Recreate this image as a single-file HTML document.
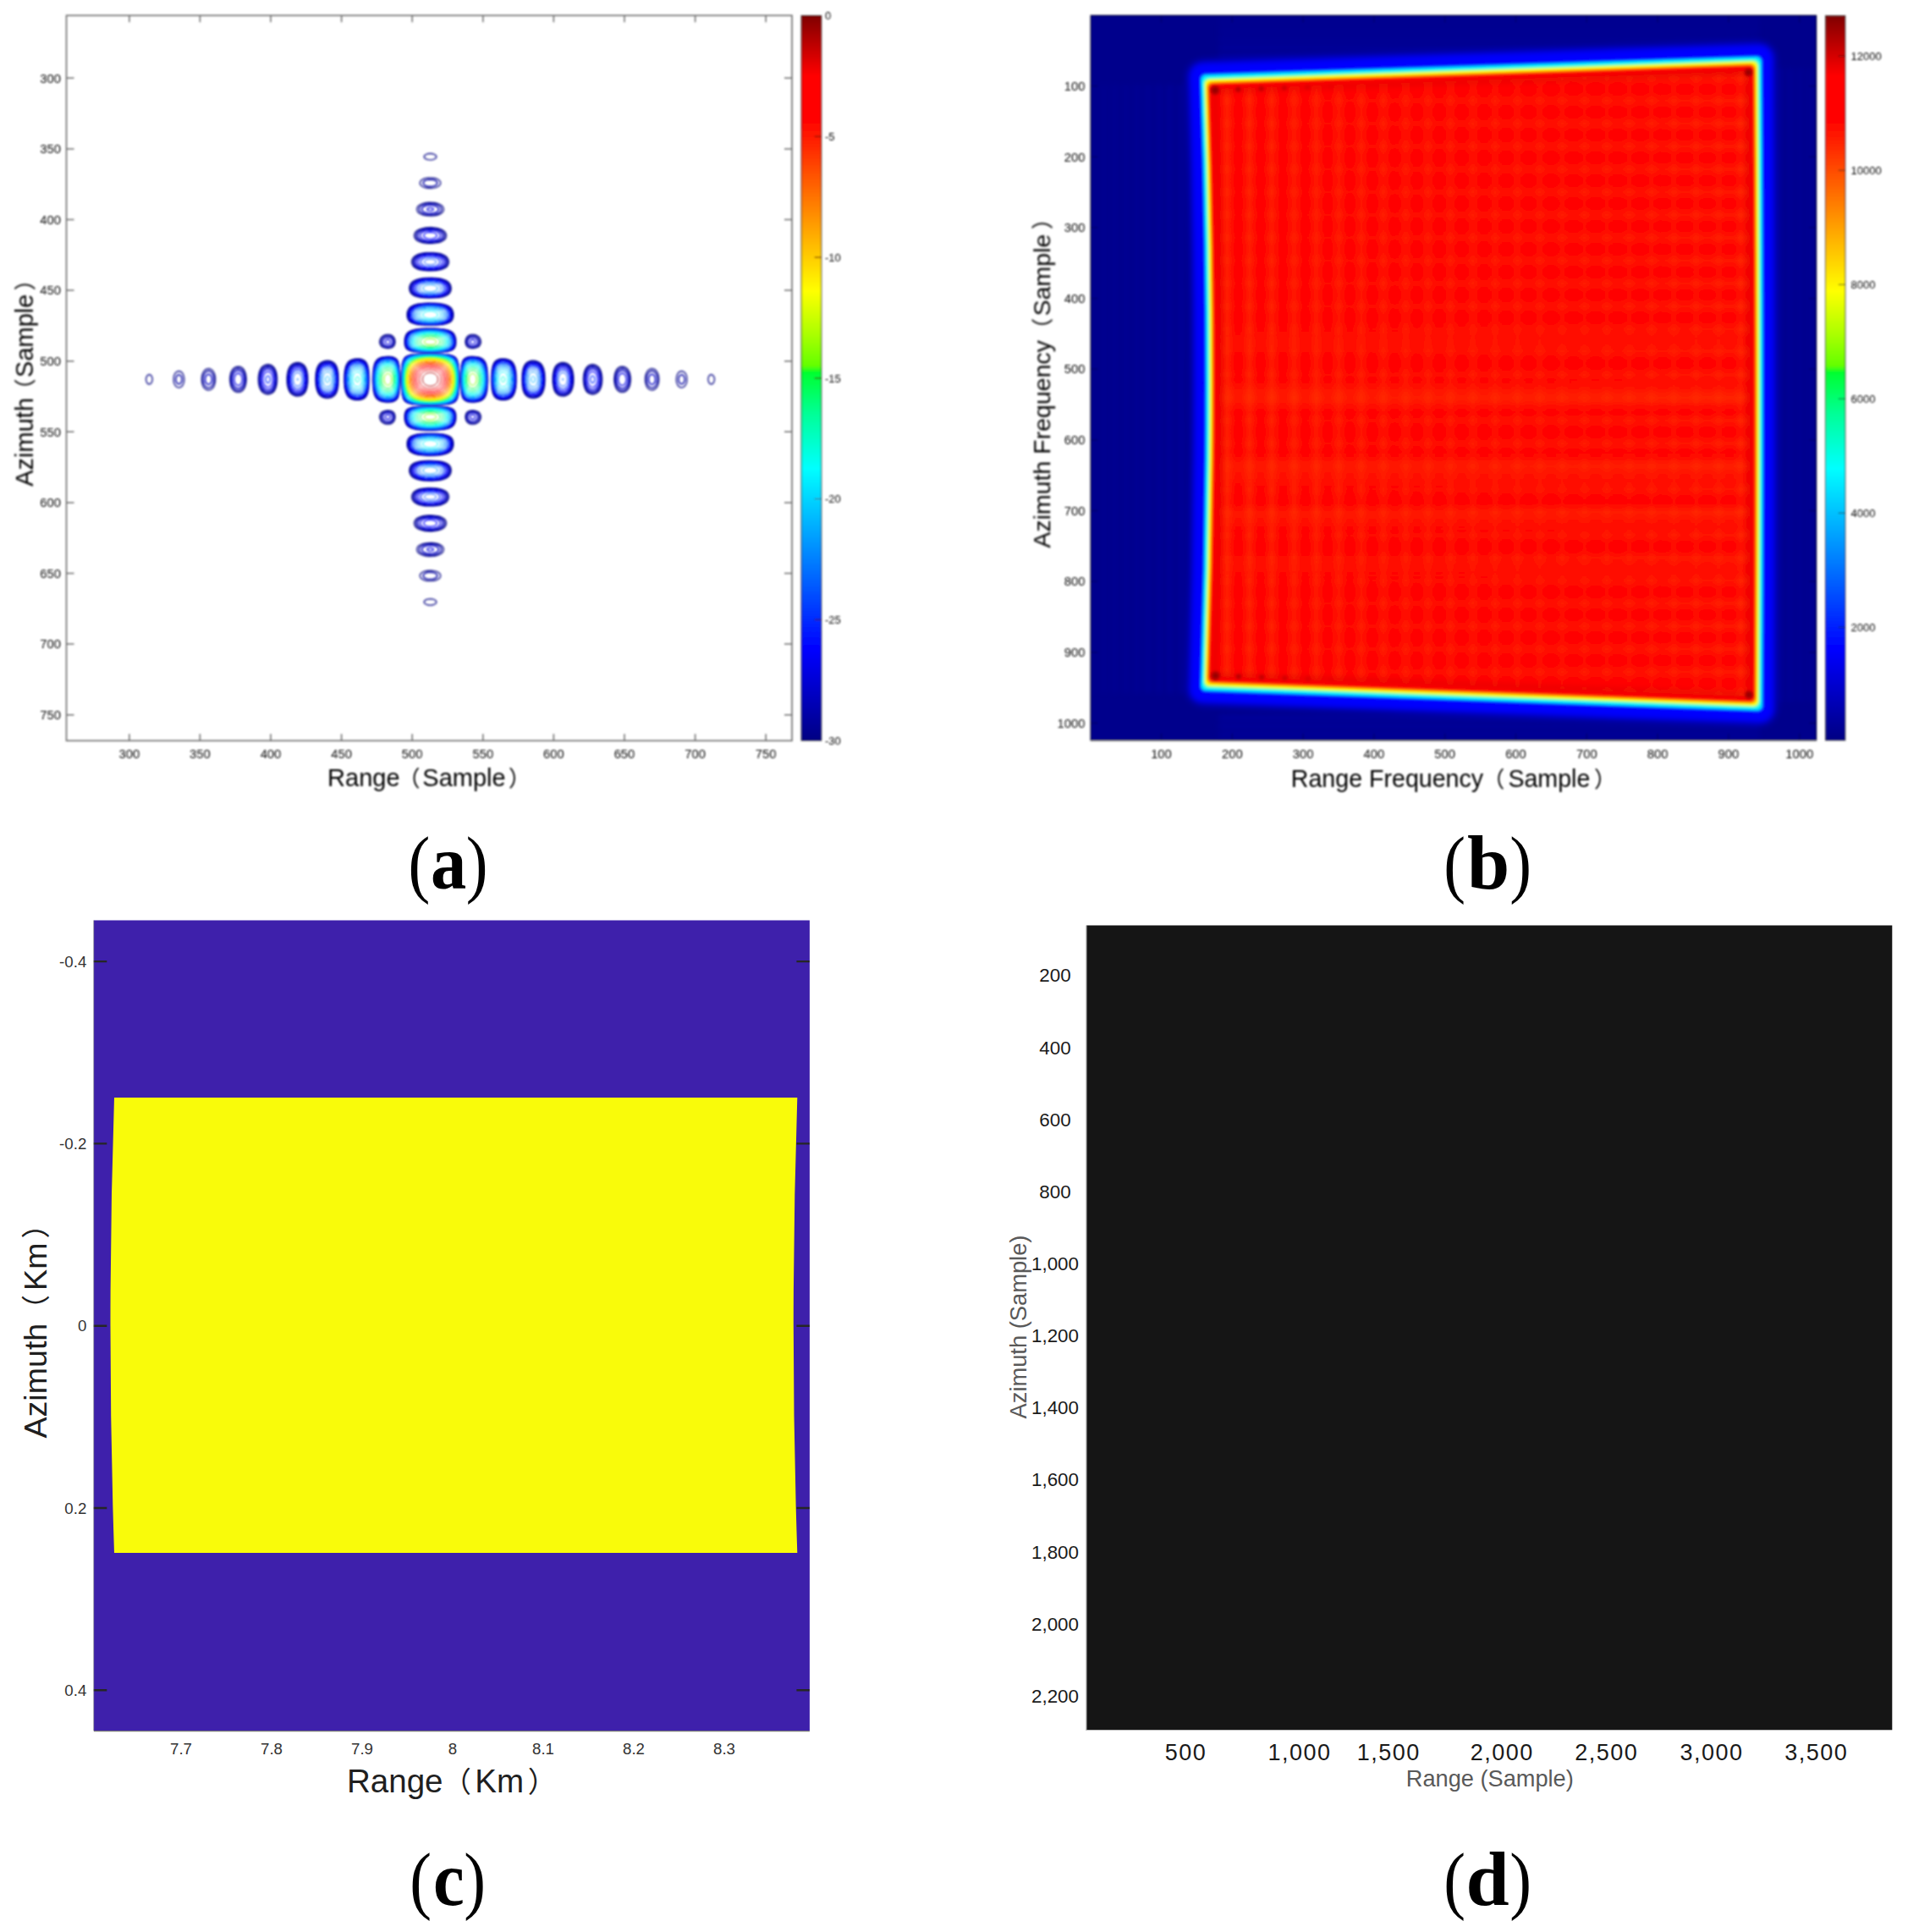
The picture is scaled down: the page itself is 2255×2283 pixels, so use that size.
<!DOCTYPE html><html><head><meta charset="utf-8"><title>Figure</title>
<style>html,body{margin:0;padding:0;background:#fff}svg{display:block}text{font-family:"Liberation Sans","Noto Sans CJK SC",sans-serif}.sf{font-family:"Liberation Serif",serif}</style></head><body>
<svg width="2255" height="2283" viewBox="0 0 2255 2283">
<defs>
<linearGradient id="jet" x1="0" y1="1" x2="0" y2="0"><stop offset="0" stop-color="#000083"/><stop offset="0.125" stop-color="#0000ff"/><stop offset="0.375" stop-color="#00ffff"/><stop offset="0.45" stop-color="#00ff98"/><stop offset="0.507" stop-color="#00ff32"/><stop offset="0.517" stop-color="#64ff00"/><stop offset="0.56" stop-color="#aaff00"/><stop offset="0.62" stop-color="#ffff00"/><stop offset="0.857" stop-color="#ff0000"/><stop offset="0.917" stop-color="#ff0000"/><stop offset="1" stop-color="#800000"/></linearGradient>
<filter id="b06" x="-2%" y="-2%" width="104%" height="104%"><feGaussianBlur stdDeviation="0.6"/></filter>
<filter id="b08" x="-2%" y="-2%" width="104%" height="104%"><feGaussianBlur stdDeviation="0.9"/></filter>
<filter id="b07" x="-5%" y="-5%" width="110%" height="110%"><feGaussianBlur stdDeviation="0.65"/></filter>
<filter id="b12" x="-2%" y="-2%" width="104%" height="104%"><feGaussianBlur stdDeviation="0.9"/></filter>
<filter id="b6" x="-5%" y="-5%" width="110%" height="110%"><feGaussianBlur stdDeviation="5"/></filter>
<filter id="b3" x="-5%" y="-5%" width="110%" height="110%"><feGaussianBlur stdDeviation="3"/></filter>
<radialGradient id="spot"><stop offset="0" stop-color="#ff4a00" stop-opacity="0.85"/><stop offset="1" stop-color="#ff4a00" stop-opacity="0"/></radialGradient>
<radialGradient id="dark"><stop offset="0" stop-color="#8a0000" stop-opacity="1"/><stop offset="0.5" stop-color="#a00000" stop-opacity="0.8"/><stop offset="1" stop-color="#c00000" stop-opacity="0"/></radialGradient>
<pattern id="grid" x="1437.1" y="105.5" width="26.4" height="27" patternUnits="userSpaceOnUse"><ellipse cx="13.2" cy="13.5" rx="8" ry="9.5" fill="url(#spot)"/></pattern>
<linearGradient id="vsg" x1="0" y1="0" x2="1" y2="0"><stop offset="0.12" stop-color="#ff4400" stop-opacity="0"/><stop offset="0.5" stop-color="#ff4400" stop-opacity="0.9"/><stop offset="0.88" stop-color="#ff4400" stop-opacity="0"/></linearGradient>
<linearGradient id="hsg" x1="0" y1="0" x2="0" y2="1"><stop offset="0.12" stop-color="#ff4400" stop-opacity="0"/><stop offset="0.5" stop-color="#ff4400" stop-opacity="0.9"/><stop offset="0.88" stop-color="#ff4400" stop-opacity="0"/></linearGradient>
<pattern id="vs" x="1437.1" y="0" width="26.4" height="40" patternUnits="userSpaceOnUse"><rect width="26.4" height="40" fill="url(#vsg)"/></pattern>
<pattern id="hs" x="0" y="105.5" width="40" height="27" patternUnits="userSpaceOnUse"><rect width="40" height="27" fill="url(#hsg)"/></pattern>
<linearGradient id="mvg" x1="0" y1="0" x2="1" y2="0"><stop offset="0" stop-color="#d0d0d0"/><stop offset="0.35" stop-color="#6a6a6a"/><stop offset="0.7" stop-color="#333"/><stop offset="0.93" stop-color="#444"/><stop offset="1" stop-color="#aaa"/></linearGradient>
<linearGradient id="mhg" x1="0" y1="0" x2="1" y2="0"><stop offset="0" stop-color="#222"/><stop offset="0.4" stop-color="#444"/><stop offset="1" stop-color="#999"/></linearGradient>
<mask id="mv" maskUnits="userSpaceOnUse" x="1400" y="50" width="720" height="820"><rect x="1425" y="50" width="655" height="820" fill="url(#mvg)"/></mask>
<mask id="mh" maskUnits="userSpaceOnUse" x="1400" y="50" width="720" height="820"><rect x="1425" y="50" width="655" height="820" fill="url(#mhg)"/></mask>
<clipPath id="clipB"><rect x="1289.2" y="18.4" width="857.3" height="856.4"/></clipPath>
</defs>
<rect width="2255" height="2283" fill="#fff"/>
<g filter="url(#b08)">
<g transform="translate(508.5,448.3)" fill="none" stroke-width="1.0" filter="url(#b07)">
<g id="cm"><path stroke="#000083" stroke-width="1.3" d="M-5.4-30l10.9 0 10 0.4 6.5 0.6 3.5 0.8 2.8 1.2 1.2 0.9 1 1 1 1.6 0.5 1.3 0.9 3.7 0.6 4.9 0.3 6.6 0.1 8-0.2 8-0.2 4.6-0.5 4.5-0.8 3.4-1 2.5-1.2 1.7-1.5 1.2-2 1-2 0.6-2.5 0.5-4.4 0.5-12.2 0.5-10.9 0-10-0.4-6.5-0.6-3.5-0.8-2.8-1.2-1.2-0.9-1-1-1-1.6-0.5-1.3-0.9-3.7-0.6-4.9-0.3-6.6-0.1-8 0.2-8 0.2-4.6 0.5-4.5 0.8-3.4 1-2.5 1.2-1.7 1.5-1.2 2-1 2-0.6 2.5-0.5 4.4-0.5 12.1-0.5z"/><path stroke="#0000a4" stroke-width="1.5" d="M-15.5-29.5l9.5-0.4 10.5 0 10.5 0.4 5.5 0.5 4.5 0.9 2.5 1 2.1 1.6 1.5 2 1.1 3 0.8 3.9 0.5 5.4 0.2 5.7 0.1 8.5-0.3 8.2-0.5 5.4-0.9 4.4-0.6 1.6-1.1 1.9-1.3 1.5-1.6 1.1-2 0.8-2.2 0.6-2.8 0.5-5 0.5-9.5 0.4-10.5 0-10.5-0.4-5.5-0.5-4.5-0.9-2.5-1-2.1-1.6-1.5-2-1.1-3-0.8-3.9-0.5-5.4-0.2-5.7-0.1-8.5 0.3-8.2 0.5-5.4 0.9-4.4 0.6-1.6 1.1-1.9 1.3-1.5 1.6-1.1 2-0.8 2.2-0.6 2.8-0.5 5-0.5z"/><path stroke="#0000c5" stroke-width="1.5" d="M-12.8-29.5l10.3-0.3 10.5 0.1 7.5 0.4 6 0.7 4 1 2.5 1.3 2 1.9 1.4 2.4 1 3.5 0.6 3.7 0.5 6.8 0.1 7-0.1 9-0.4 5.5-0.6 4.6-0.9 3.4-1 2-1.1 1.5-1.5 1.3-2 1.1-2 0.6-3 0.7-8 0.8-10.5 0.3-10.5-0.1-7.5-0.4-6-0.7-4-1-2.5-1.3-2-1.9-1.4-2.4-1-3.5-0.6-3.7-0.5-6.8-0.1-7 0.1-9 0.4-5.5 0.6-4.6 0.9-3.4 1-2 1.1-1.5 1.5-1.3 2-1.1 2-0.6 3-0.7 8-0.8z"/><path stroke="#0000e6" stroke-width="1.3" d="M-9.1-29.5l9.6-0.1 9 0.1 7.4 0.5 5.6 0.9 3.4 1.1 2.5 1.5 1.7 2 1.5 3 0.9 3.9 0.5 3.9 0.4 7.2 0.1 7.5-0.2 7-0.5 5.5-0.8 4.5-1 3-1 1.7-1.5 1.7-1.6 1.1-2.3 1-2.6 0.7-3.5 0.6-9 0.7-9 0.1-9.6-0.1-7.8-0.5-5.1-0.8-3.9-1.2-2.5-1.5-1.7-2-1.5-3-0.9-3.9-0.5-3.9-0.4-7.2-0.1-7.5 0.2-7 0.5-5.5 0.8-4.5 1-3 1-1.7 1.5-1.7 1.6-1.1 2.3-1 2.6-0.7 3.5-0.6 9-0.7z"/><path stroke="#0008ff" stroke-width="1.2" d="M-14.5-29l8.5-0.4 9.5-0.1 9.5 0.4 5.9 0.6 4.6 1 3 1.3 2.3 1.7 1.7 2.4 1.2 3.1 0.8 4.1 0.5 4.8 0.3 6.1 0 7-0.3 7.1-0.5 4.9-1 4.6-1 2.4-1 1.7-1.2 1.3-1.8 1.2-2 1-2.9 0.8-6.6 1-8.5 0.4-9.5 0.1-9.5-0.4-6.4-0.6-4.6-1-3-1.3-2.3-1.7-1.7-2.4-1.2-3.1-0.8-4.1-0.5-4.8-0.3-6.1 0-7 0.3-7.1 0.5-4.9 1-4.6 1-2.4 1-1.7 1.2-1.3 1.8-1.2 2-1 2.9-0.8 6.6-1z"/><path stroke="#002aff" stroke-width="1.2" d="M-11.6-29l9.1-0.3 9.5 0.1 7.5 0.4 5.6 0.8 3.7 1 3.2 1.6 2 1.9 1 1.4 0.8 1.6 1 3.5 0.7 4.2 0.5 5.8 0.1 6-0.1 7.2-0.5 6.3-0.5 3.6-1 3.8-1 2.2-1.4 1.9-1.6 1.4-1.9 1.1-2.6 0.9-2.4 0.6-3.1 0.5-5 0.5-9 0.3-9.5-0.1-7.5-0.4-6.1-0.8-3.7-1-3.2-1.6-2-1.9-1-1.4-0.8-1.6-1-3.5-0.7-4.2-0.5-5.8-0.1-6 0.1-7.2 0.5-6.3 0.5-3.6 1-3.8 1-2.2 1.4-1.9 1.6-1.4 1.9-1.1 2.6-0.9 2.4-0.6 3.1-0.5 5-0.5z"/><path stroke="#004dff" d="M-7.2-29l9.7-0.1 8.5 0.3 7 0.7 4.6 1.1 3.4 1.5 1.3 1 1.2 1.1 1 1.4 0.8 1.5 1.2 3.7 0.7 3.8 0.5 5 0.2 6.5-0.1 6.5-0.3 5.2-0.5 4.3-1 4-1 2.6-1.2 1.9-1.5 1.5-1.8 1.3-2.5 1.1-2.5 0.7-4 0.7-9.3 0.7-9.7 0.1-8.5-0.3-7-0.7-4.6-1.1-3.4-1.5-2.4-2-1.6-2.5-1.5-4-0.7-4-0.5-5-0.2-6.5 0.1-6.5 0.3-5.2 0.5-4.3 1-4 1-2.6 1.2-1.9 1.5-1.5 1.8-1.3 2.5-1.1 2.5-0.7 3.5-0.6 9.5-0.8z"/><path stroke="#006eff" d="M-11.8-28.5l8.3-0.4 9 0.1 7.5 0.4 6.2 0.9 4.3 1.3 3 1.7 2 2 1.7 3 1 3 0.8 4.4 0.5 5.6 0.2 5.5-0.2 7-0.4 5-0.6 4.1-1 3.7-1 2.2-1 1.5-1.5 1.6-2 1.4-2.2 1-3.3 0.9-3.2 0.6-4.3 0.5-8.5 0.4-9-0.1-7.5-0.4-6.2-0.9-4.3-1.3-3-1.7-2-2-1.7-3-1-3-0.8-4.4-0.5-5.6-0.2-5.5 0.2-7 0.4-5 0.6-4.1 1-3.7 1-2.2 1-1.5 1.5-1.6 2-1.4 2.2-1 3.3-0.9 3.2-0.6 4.3-0.5z"/><path stroke="#0090ff" d="M-7.6-28.5l8.6-0.2 8.5 0.3 7 0.8 4.9 1.1 3.4 1.5 1.5 1 1.2 1.1 1 1.3 1 1.6 1.3 3.5 0.7 3.5 0.6 5 0.3 6-0.1 6-0.3 5.2-0.5 3.9-0.9 3.9-1.1 2.9-1.3 2.1-1.3 1.5-1.9 1.4-2.2 1.1-2.8 0.9-3 0.6-3.5 0.5-5.5 0.5-9 0.2-8.5-0.3-7-0.8-4.9-1.1-3.4-1.5-1.5-1-1.2-1.1-1-1.3-1-1.6-1.3-3.5-0.7-3.5-0.6-5-0.3-6 0.1-6 0.3-5.2 0.5-3.9 0.9-3.9 1.1-2.9 1.3-2.1 1.3-1.5 1.9-1.4 2.2-1.1 2.8-0.9 3-0.6 3.5-0.5 5.5-0.5z"/><path stroke="#00b2ff" d="M-10.7-28l8.2-0.4 8.5 0.1 7.5 0.6 5.5 1 3.7 1.2 1.8 1 1.5 1 1 1 1.2 1.5 1.6 3 1 3.5 0.7 3.9 0.5 5.6 0.1 5.5-0.2 5.5-0.5 5-0.8 4.5-1 3-1.1 2.1-1.5 1.9-1.5 1.4-1.8 1.1-2.3 1-3.4 1-7 1-8 0.4-8.5-0.1-7-0.5-6-1-4.2-1.3-1.8-1-1.5-1-1-1-1.2-1.5-1.6-3-1-3.5-0.7-3.9-0.5-5.6-0.1-5.5 0.2-5.5 0.5-5 0.8-4.5 1-3 1.1-2.1 1.5-1.9 1.5-1.4 1.8-1.1 2.3-1 3.4-1 7-1z"/><path stroke="#00d4ff" d="M-5.6-28l9.1-0.1 7.5 0.5 5.5 0.8 4.8 1.3 2.1 1 1.6 1 1.2 1 1.3 1.5 1 1.6 0.9 1.9 1.2 4 0.6 4 0.5 5 0.1 5.5-0.3 5.5-0.5 4.5-0.5 3-1 3.3-1.3 2.7-1.5 2-1.7 1.5-1.6 1-2.4 1.1-2.9 0.9-3.1 0.6-4 0.5-5 0.4-8.5 0.1-8-0.4-6-0.9-4.8-1.3-3.2-1.7-1.5-1.1-1.1-1.2-1.9-3-1.5-4.6-0.7-3.9-0.4-4.5-0.2-5.5 0.2-5.5 0.4-4.5 0.7-3.9 0.9-3.1 1.1-2.5 1.4-2 1.5-1.5 2.1-1.5 2.2-1 2.8-0.9 3-0.6 4-0.6 5.5-0.4z"/><path stroke="#00f6ff" d="M-8.3-27.5l8.3-0.3 8.3 0.3 6.2 0.7 5 1.2 3.6 1.6 1.5 1 1.4 1.2 2 2.7 1.5 3.6 0.9 3.5 0.6 4 0.4 5 0 5.5-0.3 5-0.6 4.1-1 3.9-1 2.6-1.1 1.9-1.6 2-1.8 1.4-2 1.2-2.5 1-3.5 0.9-7.5 1-8 0.3-8.5-0.3-6.5-0.7-5-1.2-3.6-1.6-1.5-1-1.4-1.2-2-2.7-1.5-3.6-0.9-3.5-0.6-4-0.4-5 0-5.5 0.3-5 0.6-4.1 1-3.9 1-2.6 1.1-1.9 1.6-2 1.8-1.4 2-1.2 2.5-1 3.5-0.9 7.5-1z"/><path stroke="#00ffdd" d="M-9.5-27l7.5-0.4 8 0.1 7 0.7 4.9 1.1 3.9 1.5 1.7 1 1.5 1.2 1.2 1.3 1.1 1.5 1.6 3.5 1 3.5 0.6 3.5 0.4 5 0.1 5-0.3 5-0.5 4-0.7 3.2-1.2 3.3-1 2-1.5 2-1.7 1.5-2.1 1.4-2.5 1.1-2.5 0.8-3.5 0.7-3.5 0.5-7.5 0.4-8-0.1-7-0.7-5.4-1.1-3.9-1.5-1.7-1-1.5-1.2-1.2-1.3-1.1-1.5-1.6-3.5-1-3.5-0.6-3.5-0.4-5-0.1-5 0.3-5 0.5-4 0.7-3.2 1.2-3.3 1-2 1.5-2 1.7-1.5 2.1-1.4 2.5-1.1 2.5-0.8 3.5-0.7 3.5-0.5z"/><path stroke="#00ffaf" d="M-2.7-27l8.2 0.1 7 0.7 5.1 1.2 2.7 1 1.9 1 1.4 1 1.7 1.5 1.2 1.6 1 1.6 1.6 4.3 1.1 6 0.3 4 0.1 4-0.2 4-0.5 4-0.5 3-0.9 3-1.1 2.5-1.4 2.1-1.5 1.7-2 1.5-2.2 1.2-2.7 1-3.1 0.8-3.5 0.6-8 0.6-8-0.1-7.5-0.7-5.1-1.2-2.7-1-1.9-1-1.4-1-1.7-1.5-1.2-1.6-1-1.6-1.6-4.3-1.1-6-0.3-4-0.1-4 0.2-4 0.5-4 0.5-3 0.9-3 1.1-2.5 1.4-2.1 1.5-1.7 2-1.5 2.2-1.2 2.7-1 3.1-0.8 3.5-0.6 8-0.6z"/><path stroke="#00ff7a" d="M-4.2-26.5l7.7 0 7 0.6 5.5 1.1 2.6 0.8 2.2 1 1.7 1.1 1.5 1.2 1.5 1.7 1 1.4 1 2 0.8 2.1 1.2 5 0.4 4 0.2 4-0.1 4-0.4 4-0.6 3.4-0.9 3.1-1 2.5-1.2 2-1.4 1.7-1.5 1.3-2.2 1.5-2.3 1-3 1-3 0.6-3.5 0.5-4.5 0.4-7.5 0-7.1-0.5-5.9-1.2-2.5-0.8-2-0.9-3.2-2.1-1.3-1.3-1.2-1.7-1.1-2-0.8-2-1.3-5-0.5-4-0.2-4 0.1-4 0.4-4.5 0.6-3.4 0.9-3.1 1-2.5 1.2-2 1.4-1.7 1.5-1.3 2.2-1.5 2.3-1 3-1 3-0.6 3.5-0.5 4.5-0.4z"/><path stroke="#00ff3f" d="M-4.3-26l7.3-0.1 6.8 0.6 5.7 1.2 2.5 0.8 2 0.9 1.7 1.1 1.8 1.4 1.4 1.6 1 1.5 1.7 3.5 1.2 5 0.5 3.5 0.2 4-0.1 4-0.3 4-0.6 3.3-0.9 3.2-1.1 2.5-1.2 2-1.7 2-1.6 1.3-1.9 1.2-2.1 1-3 1-2.5 0.5-3.5 0.6-4.5 0.4-7.5 0.1-6.8-0.6-5.7-1.2-2.5-0.8-2-0.9-1.7-1.1-1.8-1.4-1.4-1.6-1-1.5-1.7-3.5-1.2-5-0.5-3.5-0.2-4 0.1-4 0.3-4 0.6-3.3 0.9-3.2 1.1-2.5 1.2-2 1.7-2 1.6-1.3 1.9-1.2 2.1-1 3-1 2.5-0.5 3.5-0.6 4.5-0.4z"/><path stroke="#7fff00" d="M-3.5-25.5l7 0 7 0.7 5.3 1.3 2.2 0.8 2 1.1 3 2.2 1.5 1.8 1.1 1.6 1 2 0.9 2.5 1 5 0.3 3.5 0.1 3.5-0.2 4-0.4 3.5-0.7 3-0.8 2.5-1.2 2.5-1.4 2-1.3 1.5-1.9 1.5-2 1.2-2.5 1.1-2.5 0.7-3.5 0.8-7 0.7-7 0-7-0.7-5.3-1.3-2.2-0.8-2-1.1-3-2.2-1.5-1.8-1.1-1.6-1-2-0.9-2.5-1-5-0.3-3.5-0.1-3.5 0.2-4 0.4-3.5 0.7-3 0.8-2.5 1.2-2.5 1.4-2 1.3-1.5 1.9-1.5 2-1.2 2.5-1.1 2.5-0.7 3.5-0.8 7-0.7z"/><path stroke="#b3ff00" d="M-8-24.5l6.5-0.5 6.5 0.2 6.1 0.8 4.9 1.4 3.5 1.7 1.5 1 1.6 1.4 1.3 1.5 1.1 1.7 1.6 3.8 0.8 3 0.6 3.5 0.2 3.5 0 3.5-0.3 3.5-0.6 3.5-0.8 2.9-1.1 2.6-1.4 2.3-1.4 1.7-1.7 1.5-1.9 1.2-2.5 1.2-2.5 0.9-6 1.2-6.5 0.5-6.5-0.2-6.1-0.8-4.9-1.4-3.5-1.7-1.5-1-1.6-1.4-1.3-1.5-1.1-1.7-1.6-3.8-0.8-3-0.6-3.5-0.2-3.5 0-3.5 0.3-3.5 0.6-3.5 0.8-2.9 1.1-2.6 1.4-2.3 1.4-1.7 1.7-1.5 1.9-1.2 2.5-1.2 2.5-0.9 6-1.2z"/><path stroke="#e3ff00" d="M-6.4-24l6.4-0.3 6.4 0.3 5.6 1 4.5 1.5 3.5 2 1.7 1.5 1.3 1.4 2 3.3 1.5 4.3 0.6 3 0.4 3.5 0 3-0.2 3.5-0.4 3-0.7 3-0.9 2.5-1.2 2.5-1.5 2-1.4 1.5-1.7 1.3-2 1.2-2.2 1-2.8 0.9-6.1 1.1-6.4 0.3-6.4-0.3-5.6-1-4.5-1.5-3.5-2-2.6-2.5-1.4-1.9-0.9-1.6-1.5-4-0.6-3-0.4-3.5-0.1-3.5 0.2-3.5 0.4-3 0.7-3 0.9-2.5 1.2-2.5 1.5-2 1.4-1.5 1.7-1.3 2-1.2 2.2-1 2.8-0.9 6-1.1z"/><path stroke="#fff100" d="M-3.6-23.5l6.1-0.1 6 0.7 5 1.2 4 1.8 1.5 0.9 1.8 1.5 2.4 3 1.8 3.7 1.2 4.8 0.4 3 0.1 3-0.1 3-0.4 3-0.5 2.5-0.8 2.5-1.1 2.5-1.3 2-1.5 1.8-1.5 1.3-2 1.3-2.2 1.1-4.8 1.5-3 0.6-3.5 0.4-6 0.1-6.1-0.6-4.9-1.1-2.3-0.9-2.2-1.1-1.5-0.9-1.8-1.5-2.4-3-1.8-3.7-1.2-4.8-0.4-3-0.1-3 0.1-3 0.4-3 0.5-2.5 0.8-2.5 1.1-2.5 1.3-2 1.5-1.8 1.5-1.3 2-1.3 2.2-1.1 4.8-1.5 3-0.6 3.5-0.4z"/><path stroke="#ffcd00" d="M-5.6-22.5l5.6-0.3 5.6 0.3 5.4 1 4.1 1.5 3.4 2 1.7 1.5 1.3 1.5 2 3.3 1.3 3.7 0.6 2.5 0.3 3 0.1 3-0.2 3-0.4 3-0.7 2.5-0.9 2.5-1.1 2.1-1.4 1.9-1.4 1.5-1.7 1.4-1.9 1.1-2.1 1-2.5 0.8-5.5 1.2-6 0.3-5.6-0.3-5.4-1-4.1-1.5-3.4-2-1.7-1.5-1.3-1.5-2-3.3-1.3-3.7-0.6-2.5-0.3-3-0.1-3 0.2-3 0.4-3 0.7-2.5 0.9-2.5 1.1-2.1 1.4-1.9 1.4-1.5 1.7-1.4 1.9-1.1 2.1-1 2.5-0.8 5.5-1.2z"/><path stroke="#ffa900" d="M-6.2-21.5l5.7-0.4 5.5 0.3 5 0.9 4 1.4 3.2 1.8 2.8 2.5 2.1 3 1.6 4 0.6 2.5 0.4 3 0.1 2.5-0.1 3-1 5-0.9 2.5-1 2-1.3 1.9-1.5 1.6-1.5 1.3-1.8 1.2-4.2 1.8-5 1.2-5.5 0.4-5.5-0.2-5-0.8-4.1-1.4-3.6-2-2.8-2.5-2.1-3-1.6-4-0.6-2.5-0.4-3-0.1-2.5 0.1-3 1-5 0.9-2.5 1-2 1.3-1.9 1.5-1.6 1.5-1.3 1.8-1.2 4.2-1.8 5-1.2z"/><path stroke="#ff8500" d="M-5.9-20.5l4.9-0.4 5 0.2 4.5 0.7 4.5 1.5 3.5 2 2.5 2.3 2.2 3.2 1.4 3.5 0.7 2.5 0.3 2.5 0 5-0.3 2.5-0.7 2.5-0.7 2-1 2-0.9 1.5-1.5 1.7-1.5 1.4-2 1.4-4 1.8-5 1.2-5 0.4-5-0.2-4.5-0.7-4.5-1.5-3.5-2-2.5-2.3-2.2-3.2-1.4-3.5-0.7-2.5-0.3-2.5 0-5 0.3-2.5 0.7-2.5 0.7-2 1-2 0.9-1.5 1.5-1.7 1.5-1.4 2-1.4 4-1.8 5-1.2z"/><path stroke="#ff6100" d="M-4.9-19.5l4.9-0.3 4.9 0.3 4.6 1 3.5 1.4 3 2 2.5 2.5 1.9 3.1 1.3 3.5 0.5 2.5 0.3 2.5-0.3 4.5-0.5 2.5-0.6 2-1.8 3.5-1.1 1.5-1.4 1.5-3.3 2.3-4 1.7-4.5 1-5 0.3-4.9-0.3-4.6-1-3.5-1.4-3-2-2.5-2.5-1.9-3.1-1.3-3.5-0.5-2.5-0.3-2.5 0.3-4.5 0.5-2.5 0.6-2 1.8-3.5 1.1-1.5 1.4-1.5 3.3-2.3 4-1.7 4.5-1z"/><path stroke="#ff3d00" d="M-2.5-18.5l4.5 0 4.5 0.6 4 1.2 3.2 1.7 2.8 2.4 2 2.6 1.5 3.3 0.9 3.7 0.2 4-0.6 4-0.6 2-0.9 2-2 3-2.6 2.5-3.4 2-4 1.3-4 0.7-4.5 0.1-4.5-0.6-4-1.1-3.5-1.8-2.6-2.1-2.4-3-1.4-3-0.9-3.5-0.3-4 0.6-4.5 0.6-2 0.9-2 2-3 2.6-2.5 3.4-2 4-1.3 4-0.7z"/><path stroke="#ff1900" d="M-3.2-17l4.2-0.2 4 0.5 4 1.1 3 1.5 2.7 2.1 2.1 2.5 1.5 3 0.9 3 0.3 3.5-0.4 4-1.2 3.5-1.8 3-2.5 2.5-2.6 1.7-3.5 1.4-4 0.9-4 0.2-4-0.4-3.5-0.8-3.5-1.6-2.7-1.9-2.3-2.5-1.5-2.7-1.1-3.3-0.4-4 0.3-3.5 1.1-3.5 1.6-3 2.5-2.7 3-2 3.5-1.4 4-0.9z"/><path stroke="#ff0000" d="M-1.5-15.5l3.5 0 3.5 0.6 3 1 3 1.7 2.1 1.7 1.9 2.5 1.3 3 0.7 3 0.1 3-0.6 3.5-1.2 3-1.8 2.5-2.2 2-2.8 1.7-3.5 1.2-3.5 0.6-4 0-3.5-0.6-3-1-3-1.7-2.1-1.7-1.9-2.5-1.3-3-0.7-3-0.1-3 0.6-3.5 1.2-3 1.8-2.5 2.2-2 2.8-1.7 3.5-1.2 3.5-0.6z"/><path stroke="#ff0000" d="M-2.1-13.5l3.1-0.1 3 0.4 3 0.9 2.5 1.3 2 1.6 1.7 1.9 1.3 2.5 0.7 2.5 0.3 3-0.5 3-1 2.5-1.5 2.4-2 1.9-2.5 1.6-2.5 0.9-3 0.7-3.5 0.1-3-0.4-3-0.9-2.5-1.3-2-1.6-1.7-1.9-1.3-2.5-0.7-2.5-0.3-3 0.5-3 1-2.5 1.5-2.4 2-1.9 2.5-1.6 2.5-0.9 3-0.7z"/><path stroke="#e60000" d="M-2.7-11l2.7-0.2 2.5 0.2 2.5 0.6 2 0.9 2 1.4 1.6 1.6 1.2 2 0.7 2 0.3 2.5-0.2 2-0.6 2-1.1 2-1.4 1.7-2 1.5-2 1-2.5 0.7-2.5 0.3-3-0.2-2.2-0.5-2.3-1-2-1.4-1.5-1.5-1-1.6-0.8-2-0.5-2.5 0.1-2 0.7-2.5 1.1-2 1.4-1.7 2-1.5 2-1 2.5-0.7z"/><path stroke="#b30000" d="M-0.2-8l1.7 0.1 2 0.5 1.5 0.7 1.5 1 1.1 1.2 0.9 1.5 0.5 1.5 0.1 1.5-0.1 1.5-0.5 1.5-0.9 1.5-1.1 1.2-1.5 1-1.5 0.7-1.5 0.4-1.8 0.2-1.7-0.1-2-0.5-1.5-0.7-1.5-1-1.1-1.2-0.9-1.5-0.5-1.5-0.1-1.5 0.1-1.5 0.5-1.5 0.9-1.5 0.9-1 1.3-1 1.4-0.7 1.5-0.5 2-0.3z"/></g>
<g id="cr"><path stroke="#000083" stroke-width="1.3" d="M45.1-26.5l3.9-0.4 4.5 0.2 4 0.7 3 1.1 2.1 1.4 1.9 2.3 1.1 2.2 1 3.5 0.9 6.4 0.3 9.6-0.3 8.6-0.5 4.3-0.5 2.6-0.5 2-1 2.3-1 1.6-1 1.2-1.5 1.2-1.5 0.8-2 0.8-2 0.5-3.5 0.4-4 0.1-3.4-0.4-2.6-0.8-2-1.2-1.4-1.5-1.1-2.2-0.6-2.3-0.9-6.6-0.3-9.4 0.2-11.5 0.6-7.6 1-4.2 0.5-1.2 1-1.5 1-1 1.5-1 3-1zM81.9-24l3.6-0.4 3.5 0.2 3.2 0.7 2.8 1.3 2 1.7 1.7 2.5 1.3 3 0.8 3.5 0.8 6 0.1 8-0.5 7-1.1 5-1.4 3.5-1.7 2.5-1.1 1-1.5 1-1.4 0.7-2 0.7-3 0.5-3.5 0-3-0.5-2.5-0.9-2-1.5-1.5-1.8-1.1-2.2-1-3.5-0.9-7-0.2-7.5 0.3-7.5 0.9-6.5 1.1-3.5 0.9-1.7 1-1.3 2-1.7 3-1.2zM119.5-22l3.5-0.1 3 0.7 3 1.4 2 1.7 1.6 2.3 1.4 3.3 0.9 3.7 0.5 4 0.2 5.5-0.3 5.5-0.8 4.9-1.2 3.6-1.7 3-2.1 2.2-2.5 1.4-3.5 0.9-3 0.1-3-0.5-2.5-1.1-2-1.6-1.5-2-1.3-2.9-0.8-3-0.6-4.5-0.3-6 0.2-6 0.7-5.5 1.1-3.8 1.5-2.9 2-2.1 2.5-1.4 3-0.8zM153.8-19.5l2.7-0.4 3 0.4 2.5 0.9 2 1.3 1.7 1.8 1.4 2.5 1.1 3 0.7 3.5 0.5 5-0.1 4.5-0.5 4.5-1.1 4-1.2 2.7-1.7 2.3-2.3 1.8-2.5 1.1-2.5 0.4-3-0.1-2.5-0.8-2-1.3-1.5-1.6-1.5-2.4-1-2.8-0.6-2.8-0.6-5 0-5 0.3-4.5 0.9-4.3 1.2-3.2 1.7-2.5 2.1-1.8 2.5-1.1zM190.7-17.5l2.3 0 2.5 0.6 2 1.1 1.9 1.8 1.5 2.5 1 2.5 0.7 3 0.5 3.5 0 4-0.3 3.5-0.8 3.7-1.1 2.8-1.4 2.3-2 2-2 1.1-2.5 0.6-2.5 0-2-0.5-2-1.1-2-1.9-1.4-2.5-0.9-2.5-0.7-3-0.4-3.5-0.1-4 0.4-4 0.6-3 1.1-3 1.4-2.4 1.5-1.6 2-1.3 2.5-0.7zM225.2-15l2.3-0.2 2 0.4 2 1 1.5 1.3 1.4 2 1 2 0.6 2 0.6 3 0.2 3.5-0.2 3-0.6 3.5-0.8 2.5-1.2 2.2-1.5 1.8-2 1.4-1.8 0.6-1.7 0.2-2-0.2-2-0.9-1.5-1.1-1.5-1.9-1-2-0.8-2.6-0.6-3-0.2-3.5 0.2-3 0.4-3 1-3.1 1-2 1.5-1.9 1.5-1.1 2-0.9zM260.7-12.5l1.8-0.1 1.5 0.3 1.5 0.7 1.5 1.3 1 1.3 1 2 0.7 2 0.4 2.5 0.2 2.5-0.3 3-0.5 2.5-0.7 2-1.1 2-1.2 1.3-1.5 1.1-1.5 0.6-2 0.1-1.5-0.3-1.5-0.8-1.2-1-1.3-1.7-0.8-1.8-0.7-2.2-0.4-2.3-0.1-2.5 0.1-2.5 0.4-2.5 0.9-2.5 1.1-2 1-1.2 1.5-1.1 1.5-0.7zM295.8-9.5l1.2-0.2 1.4 0.2 1.1 0.5 1 0.8 1 1.1 0.9 1.6 0.6 1.9 0.3 1.6 0.1 3.5-0.4 2-0.5 1.7-1 1.8-0.8 1-1.2 1-1 0.5-1 0.2-1.5-0.1-1-0.4-1-0.7-1-1-0.9-1.5-0.6-1.5-0.5-2-0.2-2 0.1-2 0.8-3.5 0.8-1.7 0.9-1.3 1.1-0.9 1-0.5zM331.2-5.5l1.3-0.2 1.5 0.7 1.1 1.5 0.7 2 0.1 2-0.6 2.5-0.9 1.5-1.4 1-1.5 0.1-1.2-0.6-1.1-1.5-0.7-2-0.1-2.5 0.5-2 0.9-1.5 1.2-0.9z"/><path stroke="#0000a4" stroke-width="1.5" d="M45.1-26l3.9-0.5 4.5 0.2 4 0.8 3 1.3 2 1.5 1.8 2.2 1.2 2.6 1 3.7 0.9 7.2 0.2 9-0.6 9-1 5.3-1.5 3.8-1 1.5-1 1.1-2.5 1.8-2 0.8-2 0.6-3.5 0.5-4 0-3.4-0.4-2.6-0.9-1.8-1.1-1.4-1.5-1-2-0.8-2.7-0.5-3-0.4-4.3-0.3-9 0.2-10.4 0.8-7.6 1-4 1.4-2.5 1-1 1.3-0.9 3-1.1zM83.1-23.5l3.9-0.2 3.5 0.5 3 1.1 2.4 1.6 1.7 2 1.4 2.6 1.1 3.4 0.8 4.5 0.4 6.5-0.1 6.5-0.7 5.6-1.1 4.4-0.9 2-0.9 1.5-2.1 2.3-2.8 1.7-3.6 1-3.6 0.2-3-0.3-2.7-0.9-2.3-1.5-1.5-1.7-1.4-2.8-0.8-3-0.6-3.5-0.5-6.5 0-7 0.4-6 1-5.5 1.4-3.5 1-1.4 1-1.1 2.5-1.6 3-0.9zM119.4-21l3.1-0.1 3 0.5 2.5 1.1 2 1.6 1.6 1.9 1.4 2.7 1 3.3 0.8 4.5 0.2 5.5-0.2 5-0.7 4.5-1.1 3.8-1.5 2.8-2 2.3-2.5 1.6-3 0.9-3 0.3-2.5-0.4-2.5-0.9-2.1-1.4-1.7-2-1.2-2.4-1-3.3-0.6-3.8-0.4-5.5 0.1-5.5 0.5-4.5 1-4.5 1.4-3.1 1.9-2.4 2.2-1.5 2.9-0.9zM155.1-18.5l2.9 0 2.3 0.5 2.2 1.1 2 1.8 1.5 2.1 1.1 2.5 0.9 3.3 0.5 3.7 0.2 4-0.3 4.5-0.8 4-1.1 3-1.5 2.5-1.9 2-2.1 1.2-2.7 0.8-2.3 0.1-2.5-0.5-2-0.9-2-1.7-1.5-2.1-1.1-2.4-0.9-3.5-0.5-3.5-0.1-4.5 0.2-4.5 0.8-4 0.9-3 1.4-2.5 1.8-2 2-1.2 2.5-0.8zM191.6-16l2.4 0.3 2 0.8 1.9 1.4 1.3 1.5 1.3 2.4 0.9 2.6 0.5 3 0.3 3.5-0.1 3.5-0.6 3.4-1 3.1-1 2-1.5 1.9-2 1.5-2 0.8-2 0.3-2-0.2-2-0.7-2-1.5-1.3-1.6-1.2-2.4-0.8-2.6-0.6-3-0.2-3.5 0.1-3.5 0.5-3.2 0.8-2.8 1.1-2.5 1.5-2 1.6-1.3 2-0.9 2-0.3zM225.4-13l1.6-0.2 2 0.3 1.5 0.7 1.5 1.2 1.1 1.5 1.1 2 0.8 2.5 0.4 2.5 0.1 2.5-0.2 3-0.4 2.5-0.9 2.4-1 1.8-1.5 1.7-1.5 1.1-1.4 0.5-1.6 0.2-2-0.3-1.5-0.7-1.5-1.2-1-1.3-1-1.9-0.6-1.8-0.6-2.5-0.2-3 0.1-2.5 0.4-3 0.8-2.5 1-2 1.1-1.5 1.5-1.2 1.5-0.7zM260-9.5l1-0.4 1.5 0 1.5 0.4 1 0.6 1 0.9 1 1.4 1.2 3.1 0.3 2 0.1 2-0.6 3.6-0.7 1.9-0.8 1.4-1 1.1-1 0.8-1 0.4-1.5 0.3-1.5-0.3-1-0.5-1-0.7-1-1.3-0.9-1.7-0.5-1.5-0.4-2-0.1-2 0.1-2 0.4-2 0.5-1.5 0.9-1.7 1-1.3 1-0.7zM296.9-5.5l0.6 0 1 0.4 1 1 0.8 1.6 0.4 2-0.1 2-0.7 2-0.9 1.2-1.5 0.8-1.5-0.2-1-0.8-1-1.6-0.5-2.1 0-1.8 0.5-2 1-1.5 1.5-0.9z"/><path stroke="#0000c5" stroke-width="1.5" d="M45.3-25.5l3.7-0.5 4 0.2 4 0.8 3 1.2 2.4 1.8 1.5 2 1.2 2.5 1 3.5 0.9 6.3 0.3 8.7-0.4 7.5-0.4 3.5-0.6 3-1.4 3.9-1 1.7-1 1.3-1.3 1.1-1.6 1-3.6 1.3-3.5 0.6-4 0-3.2-0.4-2.8-1-1.5-1-1.5-1.7-1-1.9-0.9-3.4-0.8-6.5-0.3-9.5 0.2-9.5 0.3-3.7 0.5-3.5 1-3.7 1.5-2.6 2-1.7 1.5-0.8 1.5-0.4zM82.2-22.5l3.3-0.4 3.5 0.2 3 0.8 2.5 1.4 2 1.9 1.5 2.2 1.2 2.9 0.9 4 0.7 5.5 0 6.5-0.5 6-1.1 5-1.5 3.5-2 2.5-1.2 1-1.5 0.9-3 1.1-3 0.4-3-0.1-3-0.7-2.2-1.1-1.8-1.6-1.5-2.4-1-2.6-0.7-2.9-0.7-6-0.2-6.5 0.4-7 0.8-5 1.4-4 1.5-2.4 2-1.7 1.5-0.8 1.5-0.5zM120-20l3 0 2.5 0.6 2.5 1.2 2 1.8 1.7 2.4 1.2 3 0.9 3.5 0.5 4 0.1 5-0.4 4.7-0.8 3.8-1.2 3.4-1.6 2.6-2.1 2-2.3 1.2-3.1 0.8-2.9 0-2.5-0.6-2-1-2-1.8-1.5-2.3-1-2.5-0.9-3.8-0.5-4-0.1-5 0.3-4.5 0.7-4.5 1-3.2 1.5-2.8 2-2 2.5-1.4 2.5-0.6zM154.8-17l2.2-0.2 2.5 0.4 2 0.9 2 1.6 1.5 1.9 1.2 2.4 0.8 2.6 0.6 3.4 0.2 4-0.2 4-0.6 3.4-1 3-1.4 2.6-1.6 1.8-2 1.4-2.3 0.8-2.2 0.2-2-0.3-2-0.7-2-1.5-1.4-1.7-1.1-2.1-1-3-0.6-3.4-0.3-4 0.2-4 0.5-3.5 0.8-3 1.4-2.9 1.5-1.8 2-1.5 2-0.7zM190.4-14l1.6-0.2 2 0.4 2 0.9 1.5 1.3 1.5 2.1 0.8 2 0.7 2.2 0.4 2.8 0.2 3-0.3 3-0.5 2.5-0.9 2.5-1.1 2-1.3 1.6-1.5 1.1-2 0.8-2 0.2-2-0.4-1.5-0.8-1.5-1.2-1-1.3-1-2-0.9-2.5-0.4-2.5-0.3-3.5 0.2-3 0.5-3 0.9-2.5 1-2 1.2-1.5 1.3-1 2-0.9zM225.6-10.5l1.4-0.2 1.5 0.2 1.5 0.8 1 0.8 1 1.3 0.8 1.6 0.7 2 0.3 2 0.2 2-0.2 2.5-0.4 2-0.8 2-0.9 1.5-1.2 1.3-1 0.7-1.5 0.6-1.5 0.1-1-0.2-1.5-0.7-1-0.9-1-1.3-0.8-1.6-0.7-2-0.3-2 0-4 0.3-2 0.7-2 0.8-1.6 1-1.3 1-0.9 1.5-0.7zM261.9-6l0.6 0 1 0.4 1.2 1.1 0.8 1.6 0.5 2.4-0.2 2.5-0.8 2-1 1.2-1.5 0.8-1.5-0.2-1.5-1.2-1-1.9-0.4-2.2 0.2-2.5 0.7-1.9 1-1.3 1.5-0.8z"/><path stroke="#0000e6" stroke-width="1.3" d="M45.7-25l3.8-0.4 4 0.2 3.5 0.8 3 1.4 2 1.6 1.8 2.4 1.2 2.7 1 3.9 0.8 6.4 0.1 8-0.4 7-0.5 3.4-0.6 2.6-1.4 3.6-1 1.6-1.1 1.3-1.4 1.2-1.5 0.9-2 0.8-2 0.5-3.5 0.5-3.5-0.1-3-0.5-2.5-1-1.7-1.3-1.3-1.7-1-2.2-0.9-3.6-0.7-6-0.2-9.5 0.3-9.5 0.7-5.5 1.1-4 1.5-2.5 1-1 1.2-0.8 3-1.1zM84.4-22l3.6 0 3 0.7 2.6 1.3 2.3 2 1.6 2.4 1.3 3.1 0.8 3.5 0.6 4.5 0.2 5.5-0.4 5.5-0.8 4.5-1.2 3.6-1.7 2.9-2.3 2.2-2.5 1.4-3.5 0.9-3 0-3-0.5-2.5-1.1-2-1.7-1.5-2.2-1-2.5-0.9-4-0.5-4-0.3-6 0.3-6 0.6-5 1.2-4 1.2-2.5 1.9-2.1 2.5-1.5 3-0.8zM118.7-18.5l2.8-0.4 2.5 0.3 2.5 0.9 2 1.4 1.6 1.8 1.4 2.4 1 2.7 0.7 3.4 0.5 4.5-0.1 4.5-0.6 4.4-1 3.5-1.5 3.1-1.5 1.8-2 1.6-2.5 1.1-2.5 0.4-2.5-0.2-2.5-0.8-2-1.4-1.5-1.6-1.1-1.9-1-2.5-0.8-3.5-0.4-4.5 0-5 0.4-4 0.9-4.2 1-2.5 1.5-2.3 2-1.8 2.5-1.2zM155.6-15.5l2.4 0 2 0.6 2 1.2 1.5 1.6 1.3 2.1 1 2.5 0.7 3 0.3 3 0 3.5-0.4 3-0.8 3-1.1 2.6-1.3 1.9-1.7 1.5-2 1.1-2 0.4-2 0-2-0.6-1.5-0.9-1.6-1.5-1.3-2-1-2.5-0.6-2.6-0.4-3.4 0-3.5 0.3-3.5 0.6-2.6 1-2.6 1.4-2.3 1.6-1.5 1.5-0.9 2-0.6zM189.7-11.5l1.8-0.4 1.5 0.1 1.5 0.5 1.2 0.8 1.3 1.3 1 1.6 0.8 2.1 0.5 2 0.3 2.5 0 2.5-0.4 2.5-0.5 2-0.9 2-1.1 1.5-1.2 1.2-1.5 0.8-1.5 0.4-1.5 0-1.5-0.5-1.5-0.9-1-1.1-1-1.5-0.8-1.9-0.5-2-0.4-2.5 0-2.5 0.2-2.1 0.5-2.4 1-2.4 1-1.5 1-1.1 1.5-0.9zM225.8-7l1.7-0.2 1 0.4 1 0.7 1.2 1.6 0.8 2.5 0.2 3-0.7 2.8-0.6 1.2-0.8 1-1.5 1-1.1 0.2-1-0.1-1.5-0.9-1.2-1.7-0.9-2.5-0.1-3 0.5-2.5 1.2-2.1 1.5-1.3z"/><path stroke="#0008ff" stroke-width="1.2" d="M46.4-24.5l3.6-0.3 4 0.3 3.5 1 2.7 1.5 2.1 2 1.6 2.5 1.1 3 0.9 4 0.6 6.5 0 7.5-0.5 6.1-1.2 5.4-1.5 3.5-1 1.5-1.3 1.4-1.5 1.1-1.5 0.8-3.5 1.1-3.5 0.4-3.5-0.1-3-0.7-2-1-1.8-1.5-1.2-1.8-1-2.5-0.7-3.2-0.8-7-0.1-8 0.3-8 0.8-6.3 1-3.3 1-1.9 0.7-1 1.1-1 1.2-0.8 3-1.1zM84.3-21l3.2 0 2.7 0.5 2.8 1.3 2 1.7 1.6 2 1.4 3 1 3.7 0.6 4.3 0.2 5-0.3 5.1-0.8 4.4-1.2 3.7-1.5 2.7-2 2.1-2.5 1.5-1.5 0.6-2 0.4-3 0.1-2.9-0.6-2.1-1-2-1.6-1.5-2.2-1-2.3-1-3.9-0.5-4-0.2-5.5 0.2-5.5 0.5-4 1-4 1.5-3 1.6-2 2.4-1.6 3-0.9zM118.5-17l2-0.4 2.5 0 2.5 0.8 2 1.2 1.5 1.5 1.5 2.2 1 2.4 0.8 3.3 0.5 3.5 0 4-0.4 4-0.8 3.5-1.1 2.7-1.5 2.2-2 1.9-2 1-2 0.6-2.5 0-2-0.4-2.1-1-1.4-1.2-1.5-2-1.1-2.3-0.9-3.3-0.5-3.7-0.2-4.5 0.3-4 0.8-4 1.1-2.9 1.3-2.1 1.7-1.7 2-1.1zM155.3-13.5l1.7-0.1 2 0.4 1.5 0.7 1.5 1.2 1.4 1.8 0.9 2 0.7 2.1 0.5 2.9 0.1 2.5-0.2 3-0.4 2.5-1 2.8-1 1.8-1.5 1.7-1.5 1-1.9 0.7-1.6 0.1-2-0.3-1.5-0.8-1.5-1.3-1-1.3-1-2-0.8-2.4-0.4-2.5-0.2-3 0.2-3 0.4-2.5 0.8-2.4 1-2 1.3-1.6 1.2-1 2-0.9zM189.9-8.5l1.1-0.4 1-0.1 1.5 0.4 1 0.5 1 1 0.8 1.1 0.7 1.5 0.4 1.5 0.4 3.5-0.6 3.5-1.2 2.5-1 1.2-1 0.7-1 0.4-1.5 0.2-1-0.2-1-0.5-1-0.9-0.7-0.9-0.8-1.5-0.5-1.5-0.4-3.5 0.4-3.5 0.5-1.5 0.8-1.5 0.7-0.9 1-0.9z"/><path stroke="#002aff" stroke-width="1.2" d="M47.6-24l3.9-0.1 3.7 0.6 3.3 1.3 2.3 1.7 1.7 2 1.5 3 1.1 3.5 0.8 5 0.3 6.5-0.2 6.5-0.9 6-1.3 4-0.8 1.7-1 1.5-1.2 1.3-1.2 1-3.1 1.6-3.9 0.9-3.6 0.1-3-0.4-2.5-0.9-2-1.5-1.5-1.9-1-2.2-1-3.7-0.5-4-0.4-7 0.1-7.5 0.5-6 0.9-5 1.4-3.4 1.7-2.1 2.3-1.5 1.5-0.6 2-0.4zM85.1-20l2.9 0.1 3 0.9 2.5 1.5 1.9 2 1.6 2.9 1 2.8 0.7 3.8 0.4 4 0 5-0.6 4.5-1 3.9-1.2 2.6-1.8 2.5-2 1.7-2.5 1.2-3 0.6-2.5-0.1-2.5-0.6-2.3-1.3-1.7-1.7-1.5-2.5-1-2.9-0.7-3.4-0.4-4.5-0.1-5 0.4-4.5 0.8-4.4 1-2.9 1.5-2.5 2-1.9 2.5-1.3 2.5-0.5zM118.9-15.5l2.1-0.4 2 0.1 2 0.7 2 1.2 1.5 1.6 1.4 2.3 1 2.5 0.6 2.5 0.3 3.5 0 3.5-0.4 3.5-0.9 3-1 2.3-1.5 2.1-1.5 1.4-2 1.1-2 0.5-2 0-2-0.5-2-1.2-1.5-1.5-1.1-1.7-0.9-2.1-0.8-2.9-0.4-3.5-0.1-3.5 0.3-3.6 0.7-3.4 1-2.5 1.3-2.2 1.5-1.5 2-1.2zM155-11l1.5-0.3 1.5 0.2 1.5 0.6 1.3 1 1.2 1.4 0.8 1.6 0.7 1.8 0.4 2.2 0.2 2.5-0.1 2-0.5 2.5-0.5 1.6-1 1.9-1 1.3-1.5 1.2-1.1 0.5-1.4 0.3-1.5-0.2-1.5-0.6-1-0.7-1-1.1-1-1.6-0.8-2.1-0.4-2-0.3-2.5 0.1-2 0.4-2.5 0.5-2 1-2 1-1.3 1-0.9 1.5-0.8zM191.3-4l1.2 0 0.7 0.5 0.8 1 0.5 1.5 0.1 1.5-0.4 1.5-0.7 1.3-1 0.7-1 0.1-1-0.6-0.8-1-0.5-1.5 0-1.5 0.3-1.5 0.5-1 1-0.9z"/><path stroke="#004dff" d="M46.4-23l3.1-0.4 3.5 0.2 3 0.8 3 1.5 2.1 1.9 1.7 2.5 1.2 3 1 4 0.6 6 0.1 6.5-0.6 6-1.1 4.6-1.5 3.5-2 2.5-2.5 1.9-1.5 0.7-2 0.7-3 0.5-3-0.1-2.5-0.4-2.5-1-2-1.6-1.3-1.8-1.1-2.5-0.7-3-0.8-6.5-0.2-7 0.3-7 0.8-6.2 1-3.3 1.5-2.7 2-1.9 1.5-0.8 1.5-0.5zM83.5-18.5l2.5-0.3 2.5 0.3 2.5 0.8 2 1.4 1.7 1.8 1.5 2.5 1.1 3 0.7 3.4 0.4 4.1-0.1 4.5-0.6 4.5-1.1 3.5-1.2 2.5-1.9 2.4-2 1.5-2.5 1-2.5 0.4-2.5-0.2-2-0.6-2-1.2-1.5-1.6-1.4-2.2-0.9-2.5-0.7-3-0.5-4.1-0.1-4.9 0.4-4.5 0.7-4 1.1-3 1.6-2.5 1.8-1.7 2.5-1.2zM120.6-14l1.9 0 2 0.6 1.5 0.9 1.5 1.5 1 1.5 1.1 2.5 0.7 2.5 0.4 3 0 3-0.4 3-0.8 2.9-1 2.1-1 1.5-1.5 1.5-1.8 1-1.9 0.5-1.8 0-2-0.6-1.5-1-1.4-1.4-1.1-1.9-0.8-2.1-0.6-2.5-0.3-2.5-0.1-3 0.3-3 0.5-2.5 1-2.6 1-1.7 1.5-1.6 1.5-1 2-0.6zM156.1-8l0.9 0 1 0.2 1 0.5 1 0.9 0.9 1.4 0.6 1.4 0.5 3.1 0 1.5-0.3 2-1.1 2.5-0.6 0.9-1 0.9-1 0.5-1 0.2-1 0-1-0.4-1-0.7-0.8-0.9-1.2-2.5-0.5-3 0.3-3 0.8-2.5 1.4-1.9 1-0.7 1-0.4z"/><path stroke="#006eff" d="M48.3-22.5l3.5 0 3.2 0.7 3 1.3 2.4 2 1.8 2.5 1.3 3 1 4 0.5 4 0.2 5.5-0.3 6-0.9 4.8-1.5 4.1-1.7 2.6-2.3 2.1-3 1.6-3.5 0.8-3 0.1-3-0.6-2.3-1-1.7-1.3-1.5-2.1-1-2.2-1-3.9-0.5-4.2-0.3-6.8 0.2-6.5 0.6-5.3 1-4.1 1.2-2.6 1.8-2.1 1.2-0.9 1.3-0.7 3-0.8zM83.3-17l2.2-0.4 2.5 0.2 2.5 0.8 2 1.4 1.5 1.6 1.4 2.4 1.1 2.9 0.6 2.6 0.4 3.7 0 3.8-0.5 4-0.9 3.5-1.5 3-1.5 2-1.9 1.5-2.2 1-2.5 0.4-2-0.1-2-0.6-2-1.2-1.5-1.5-1.2-2-1-2.5-0.7-3-0.4-4-0.1-4.5 0.4-4 0.8-3.5 1.2-2.9 1.4-2.1 1.6-1.4 2-1zM119.7-11.5l1.8-0.3 1.5 0.2 1.5 0.7 1.2 0.9 1.3 1.5 0.8 1.5 0.7 1.7 0.5 2.3 0.2 2.5-0.1 2.5-0.4 2.5-0.6 2-1.1 2-1 1.3-1 0.8-1.5 0.8-1.5 0.4-1.5-0.1-1.5-0.5-1.5-1-1-1.2-1-1.6-0.7-1.9-0.5-2-0.2-2.5 0-2.5 0.3-2.5 0.6-2.1 0.8-1.9 1.1-1.5 1.1-1.1 1.5-0.8zM156.3-0.5l0.2-0.3 0.5 0.1 0.3 0.7-0.1 0.5-0.2 0.2-0.5 0.1-0.4-0.8z"/><path stroke="#0090ff" d="M47.8-21.5l3.2-0.2 3.5 0.7 2.5 1.1 2.5 1.8 1.7 2.1 1.5 3 1 3.5 0.7 4 0.3 5.5-0.3 5-0.8 5-1.1 3.5-1.7 3-2.3 2.4-2.6 1.6-3.4 1-3 0.2-2.5-0.4-2.5-0.9-2-1.5-1.5-1.9-1-2.1-1-3.4-0.5-3.4-0.4-5.6 0-6 0.5-5 0.9-5 1.2-3 1.8-2.4 2.2-1.6 2.8-0.9zM83.7-15.5l2.3-0.3 2 0.2 2 0.7 2 1.4 1.5 1.8 1 1.7 1 2.5 0.7 3 0.3 3.5-0.1 3.5-0.5 3.5-0.9 2.9-1 2.1-1.5 2-2 1.6-2 0.9-2 0.3-2-0.1-2-0.7-1.5-1-1.4-1.5-1.1-1.7-1-2.6-0.6-2.7-0.4-3.5 0-3.5 0.3-3.5 0.7-3.2 1-2.6 1.5-2.2 1.5-1.4 2-1zM120-8.5l1-0.3 1.5 0.1 1 0.4 1 0.7 1.5 2 1 2.7 0.3 3.4-0.2 2-0.4 1.5-1.2 2.5-1 1.1-1 0.7-1 0.4-1.5 0.1-1-0.3-1-0.5-1-1-0.7-1-0.7-1.5-0.4-1.5-0.4-3.5 0.6-3.5 1.2-2.5 0.9-1.1 1-0.7z"/><path stroke="#00b2ff" d="M48-20.5l3-0.1 3 0.5 2.5 1.1 2.5 1.9 1.7 2.1 1.3 2.6 1.1 3.4 0.6 4 0.3 5-0.3 5-0.7 4.2-1.3 3.8-1.7 3-2 2-2.5 1.5-3 0.9-3 0.3-2.5-0.4-2.1-0.8-1.9-1.4-1.5-1.9-1-2-1-3.2-0.5-3-0.5-5.5 0.1-5.5 0.4-5.1 1-4.7 1.4-3.2 1.5-2 2.1-1.5 2.5-0.9zM83.6-13.5l1.9-0.4 2 0.1 2 0.7 1.5 1 1.4 1.6 1.1 1.8 0.9 2.2 0.6 2.5 0.3 3-0.1 3-0.4 3-0.8 2.5-1 2.2-1.4 1.8-1.6 1.3-1.5 0.7-2 0.5-1.5-0.1-1.5-0.4-1.7-1-1.3-1.3-1-1.5-0.9-2.2-0.7-2.5-0.4-3 0-3 0.2-3 0.7-3 1-2.5 1.1-1.7 1.5-1.4 1.5-0.9zM120.8-3.5l0.7-0.2 1 0.4 0.7 0.8 0.6 1.5 0.1 1.5-0.4 1.5-0.5 0.9-0.8 0.6-0.7 0.2-1-0.4-0.8-0.8-0.5-1.5-0.1-1 0.2-1.5 0.4-1 0.8-0.8z"/><path stroke="#00d4ff" d="M49.3-19.5l2.7 0.1 3 0.9 2.4 1.5 2 2 1.5 2.5 1.1 2.9 0.8 3.6 0.4 4 0 4.5-0.5 4-0.8 3.5-1.4 3.3-2 2.7-2 1.7-2.5 1.2-3 0.6-2.5-0.1-2.5-0.7-2-1.1-1.5-1.6-1.5-2.6-0.9-2.9-0.6-3-0.4-4.5-0.1-4.5 0.4-5 0.6-3.7 1.1-3.3 1.4-2.5 1.5-1.6 2.5-1.3 2.5-0.6zM84.7-11.5l1.3-0.2 1.5 0.2 1.5 0.6 1.5 1.2 1 1.2 1 1.8 0.6 1.7 0.6 2.5 0.1 2.5-0.1 2.5-0.6 2.5-0.6 1.7-1 1.8-1 1.2-1.5 1.2-1.5 0.6-1.5 0.2-1.5-0.2-1.5-0.7-1-0.9-1-1.2-0.9-1.7-0.6-1.5-0.5-2.5-0.2-2.5 0.1-2.5 0.4-2.5 0.6-2 0.9-2 1.2-1.4 1-0.9 1.5-0.7z"/><path stroke="#00f6ff" d="M47.9-18l2.6-0.2 2.5 0.4 2.5 1 2 1.5 1.5 1.8 1.5 2.7 1 3 0.6 3.3 0.3 4-0.2 4-0.6 4-1.1 3.3-1.5 2.7-1.8 2-2.2 1.5-2.5 1-2.5 0.2-2-0.2-2-0.7-2-1.3-1.5-1.8-1-2-0.9-2.7-0.6-3.1-0.4-4.9 0.1-4.5 0.4-4 0.9-3.9 1-2.4 1.5-2.2 1.9-1.5 2.1-0.9zM85-8.5l1.5-0.1 1 0.2 1 0.5 1 0.9 0.7 1 0.8 1.5 0.7 3 0.1 1.5-0.1 2-0.9 3-0.8 1.4-1 1.1-1 0.7-1 0.3-1.5 0.1-1-0.3-1-0.6-0.8-0.7-1.2-2-0.5-1.5-0.4-2 0.1-3.5 0.8-3 0.5-1 1-1.3 1-0.8 1-0.4z"/><path stroke="#00ffdd" d="M47.9-16.5l2.1-0.3 2.5 0.3 2.3 1 2 1.5 1.7 2 1 2 1 2.7 0.7 3.3 0.2 3.5-0.1 3.5-0.6 3.5-0.9 3-1.3 2.4-1.7 2.1-2 1.5-2.3 1-2.5 0.3-2-0.3-2-0.8-1.5-1.1-1.5-1.8-1-2-0.8-2.3-0.6-3-0.3-4 0-4 0.4-3.5 0.8-3.4 1-2.5 1.5-2.2 1.5-1.3 2-1zM85.3-3l0.7-0.3 0.9 0.3 0.6 0.5 0.5 1 0.3 1.5-0.2 1-0.3 1-0.8 0.9-0.5 0.3-1-0.1-0.8-0.6-0.5-1-0.3-1 0.1-1.5 0.4-1 0.6-0.8z"/><path stroke="#00ffaf" d="M49-15l2 0 2 0.5 2 1.1 1.6 1.4 1.4 2 1 2.2 0.8 2.8 0.4 3 0.1 3-0.3 3-0.7 3-1 2.5-1.3 2-1.5 1.5-2 1.3-2 0.6-2 0.2-2-0.5-1.5-0.8-1.5-1.3-1.1-1.5-0.9-2-0.7-2.5-0.5-3-0.2-3.5 0.2-3 0.4-3 0.8-3 1-2.1 1.5-1.9 1.5-1.2 2-0.7z"/><path stroke="#00ff7a" d="M49.3-13l1.7 0 2 0.6 1.5 1 1.4 1.4 1.1 1.6 1 2.4 0.5 2 0.4 2.5 0 2.5-0.4 3-0.5 2-1 2.4-1.1 1.6-1.4 1.4-1.5 1-2 0.6-2 0-1.5-0.5-1.5-1-1-1-1-1.6-0.8-1.9-0.6-2.5-0.3-2.5-0.1-3 0.3-3 0.5-2.4 0.8-2.1 1.2-2 1-1 1.5-1 1.5-0.5z"/><path stroke="#00ff3f" d="M47.9-10l1.1-0.4 1.5-0.1 1.5 0.4 1.5 0.9 1 0.9 1 1.4 0.7 1.4 0.6 2 0.3 2 0.1 2-0.2 2-0.5 2.1-0.6 1.4-0.9 1.6-1.2 1.4-1.3 0.9-1 0.4-1.5 0.2-1.5-0.3-1-0.4-1-0.8-1-1.3-0.9-1.7-0.5-1.5-0.4-2-0.1-2.5 0.4-4 0.6-2 0.9-1.7 1-1.3 1-0.8z"/><path stroke="#7fff00" d="M48.6-6.5l0.9-0.3 1 0 1.5 0.6 1.5 1.6 1 2.5 0.2 2.6-0.5 2.5-1.2 2.3-1.5 1.2-1 0.3-1 0-1.5-0.7-1.3-1.6-0.7-2-0.3-2.5 0.3-2.6 1-2.4 1.5-1.5z"/></g>
<use href="#cr" transform="scale(-1,1)"/>
<g id="ct"><path stroke="#000083" stroke-width="1.3" d="M-3-266.5l3-0.3 3 0.3 2.5 1 1.2 1 0.4 0.5 0.2 1-0.3 0.9-0.4 0.6-1.4 1-2.2 0.8-2.5 0.3-3-0.2-2.5-0.8-1.6-1.1-0.4-0.6-0.3-0.9 0.2-1 0.4-0.5 1.2-1 2.5-1zM-3.7-238l2.7-0.2 2.5 0 4.5 0.7 2 0.7 1.6 0.8 1.3 1 0.7 1 0.5 1 0.1 1.5-0.6 1.5-0.9 1-1.3 1-1.4 0.7-2 0.6-2 0.4-2.5 0.3-2.5 0-4.5-0.5-2-0.6-1.9-0.9-1.3-1-0.9-1-0.5-1-0.1-1.5 0.6-1.5 0.7-1 1.3-1 1.6-0.8 1.9-0.7 2.1-0.4zM-1-209l3.5 0.1 3.5 0.4 2.5 0.6 2.5 0.9 1.8 1 1.7 1.5 0.9 1.5 0.4 1.5 0 1.5-0.8 1.8-1 1.2-2 1.4-2 0.9-2.5 0.7-3 0.6-3.5 0.2-3.5-0.1-3-0.3-2.5-0.5-2.8-0.9-1.9-1-1.8-1.5-0.9-1.5-0.4-1.5 0.1-1.5 0.7-1.8 1-1.2 2-1.5 2.2-1 2.8-0.8 3-0.5 3-0.2zM-6.7-179l3.7-0.4 4-0.1 4 0.3 3.5 0.5 2.7 0.7 2.5 1 2.3 1.4 1.5 1.5 1.1 2.1 0.4 2-0.3 2-1 2-1.5 1.5-2.5 1.5-2.7 1-3.5 0.7-4 0.5-4 0.1-4.5-0.2-3.5-0.5-2.5-0.6-2.7-1-2.3-1.3-1.5-1.5-1.2-2.2-0.3-2 0.4-2 1-2 1.6-1.6 2.3-1.4 2.7-1 4-0.9zM-5.7-149.5l4.7-0.2 5 0.1 4 0.4 3.9 0.7 3.1 1 2 1 2.1 1.5 1.6 2 1 2.5 0.2 2.5-0.7 2.5-0.7 1.2-1 1.2-2.2 1.6-2.8 1.2-3.5 1-4.5 0.6-5 0.3-5-0.1-4.5-0.4-3.8-0.6-3.2-0.9-2.3-1.1-2.1-1.5-1.2-1.5-1.1-2.5-0.2-2.5 0.3-1.5 0.6-1.5 1.5-2.1 2.5-1.9 3-1.4 4-1 4-0.6zM-8.3-119.5l5.3-0.4 5 0 5.5 0.3 4.4 0.6 4.1 1 2.5 1 2.4 1.5 1.6 1.6 0.9 1.4 0.7 1.5 0.6 3-0.3 3-0.6 1.5-0.9 1.5-2.1 2-2.8 1.5-3.5 1-5 0.8-5 0.4-6 0.1-6-0.3-4.5-0.5-4-0.8-3-1.1-2.5-1.6-1.4-1.5-0.9-1.5-0.6-1.5-0.3-3 0.2-1.6 0.5-1.7 0.6-1.2 1-1.5 2.2-2 2.9-1.5 3.8-1.2 5-0.8zM-1.7-90l6.2 0.1 6.2 0.4 5.3 0.8 3.9 1.2 2.8 1.5 2.2 2 1.5 2.5 0.9 3 0.1 3.5-0.6 3-1.4 2.5-0.9 1-1.5 1.1-3.2 1.4-4.5 1-5.3 0.6-7.5 0.3-7-0.1-6.5-0.3-4.5-0.5-4.3-1-3.2-1.4-2-1.6-1.5-2.3-0.8-2.7-0.1-3.5 0.3-2 0.6-1.8 1.6-2.7 0.9-1 1.5-1.2 1.5-0.8 2-0.8 4.5-1.2 5.5-0.7 7-0.3zM-4.2-60l8.2 0 6.5 0.3 5.5 0.5 4 0.8 3 0.9 2.7 1.5 2 2 1.4 2.5 0.7 2 0.4 2.5 0.2 2.5-0.2 2.5-0.3 2-0.5 1.5-0.8 1.5-1.1 1.3-1.5 1-1.5 0.7-4.2 1-4.5 0.5-8.8 0.4-16-0.1-6.8-0.3-4.5-0.5-3.7-0.8-2.5-1.2-1.8-1.5-1.1-2-0.6-2-0.3-2.5 0-2.5 0.3-2.9 0.5-2.1 0.8-2 1-1.5 1.4-1.5 1.3-1 2-1 4-1.2 5.7-0.8 8.8-0.5z"/><path stroke="#0000a4" stroke-width="1.5" d="M-3-236l3-0.3 3 0.3 3 1 1.5 1.1 0.6 0.9 0.2 1-0.6 1.5-1.7 1.4-2.5 0.9-3 0.3-3.5-0.2-2.8-0.9-1.7-1.2-0.5-0.8-0.3-1 0.5-1.5 0.8-0.8 1-0.7 2.5-0.9zM-3.7-207.5l5.2-0.2 2.5 0.2 2.5 0.5 2 0.7 1.6 0.8 1.4 1 1.2 1.5 0.5 1.5-0.1 1.5-0.6 1.4-1 1.1-1.4 1-1.6 0.7-2.5 0.8-2 0.3-2.5 0.3-3 0-2.5-0.3-2.5-0.4-2.5-0.9-1.5-0.8-1.5-1.2-0.7-1-0.5-1.5 0.1-1.5 0.6-1.4 1-1.1 1.4-1 2.1-1 4-1zM-1.8-178.5l3.6 0 3.2 0.3 3.5 0.6 2.5 0.8 2.5 1.3 1.5 1.1 1.1 1.4 0.9 2 0 2-0.5 1.5-1 1.5-1.8 1.5-2.2 1.1-2.8 0.9-3.2 0.6-3.5 0.3-4 0-3.5-0.3-3.2-0.6-2.3-0.7-2-0.9-2-1.4-1.2-1.5-0.7-1.5-0.1-2 0.6-2 1-1.5 1.8-1.5 2.1-1.1 2.7-0.9 3.3-0.7 3.5-0.3zM-2.6-149l4.6 0 4.5 0.3 3.8 0.7 3.2 1 2.5 1.2 2 1.5 1.4 1.8 0.8 2 0.2 2.5-0.5 2-1.3 2-1.7 1.5-2.9 1.5-3 0.9-3.5 0.6-4.5 0.4-4.5 0.1-4-0.3-4-0.5-3-0.7-2.6-1-2.4-1.5-1.5-1.5-1-2-0.4-2 0.3-2.5 1.1-2.1 2-2 2.3-1.4 3.2-1.2 3.8-0.8 4.7-0.5zM-7.7-119l4.7-0.3 5-0.1 5 0.3 4.1 0.6 3.9 1 2.5 1 2.4 1.5 1.6 1.6 1.4 2.4 0.5 1.5 0.2 1.5-0.1 1.5-0.3 1.5-1.2 2.5-2 2-2.8 1.5-3.2 1-5 0.9-5 0.4-5.5 0-6-0.3-4.2-0.5-3.8-0.9-2.8-1.1-2.2-1.4-1.5-1.6-1.2-2.5-0.3-1.5-0.1-1.5 0.2-1.5 0.5-1.5 1.4-2.5 2.2-2 2.9-1.5 3.4-1.1 5-0.9zM-5.6-89.5l5.6-0.1 6 0.1 5.2 0.5 4.8 0.9 3.4 1.1 2.6 1.4 1.8 1.6 1.5 2 0.7 1.7 0.5 1.8 0.1 3.5-0.4 2-0.5 1.5-0.9 1.5-0.9 1-2.4 1.7-3.5 1.3-5 0.9-5.5 0.5-6.5 0.2-7-0.1-6-0.4-3.9-0.6-3.6-1-2.4-1-2-1.5-1.5-2-0.7-1.5-0.4-2-0.2-2 0.2-1.7 0.4-1.8 0.6-1.5 0.9-1.5 1.3-1.5 1.2-1 1.6-1 4-1.5 5-1 5.5-0.5zM-9.9-59.5l6.4-0.3 7 0 6.4 0.3 5.1 0.5 4.5 0.9 3 0.9 2.5 1.4 2 1.8 1 1.5 0.9 2 0.6 2.3 0.3 2.2 0 2.5-0.2 2.5-0.6 2-0.7 1.5-0.8 1-1.1 1-1.4 0.8-1.7 0.7-4.7 1-5.1 0.5-7.5 0.3-8.5 0-8.5-0.2-5.5-0.4-4-0.5-2.8-0.7-2.3-1-1.9-1.5-1.1-1.5-0.7-2-0.4-2-0.2-2.5 0.2-2.5 0.5-2.5 0.7-2 1.2-2 0.8-1 1.5-1.3 1.5-0.9 1.9-0.8 4.6-1.2 7-0.8z"/><path stroke="#0000c5" stroke-width="1.5" d="M-0.7-206l3.7 0.2 3.5 1 2.1 1.3 0.8 1 0.4 1 0 1-0.4 1-1.4 1.5-1.5 0.8-1.5 0.5-4 0.6-3.5-0.1-3.5-0.8-1.5-0.7-1.1-0.8-0.8-1-0.4-1 0-1 0.4-1 0.8-1 1.1-0.8 1.5-0.7 1.5-0.5 3.5-0.5zM-5.2-177l2.7-0.3 3-0.1 3 0.2 2.5 0.4 2.5 0.6 2 0.8 1.5 0.9 1.6 1.5 0.9 1.5 0.3 1.5-0.2 1.5-0.8 1.5-1.6 1.5-1.7 1-2.5 0.9-2.5 0.6-3 0.3-3 0.1-3-0.2-3-0.4-2.5-0.7-2-0.9-1.5-0.9-1.3-1.3-0.8-1.5-0.2-1.5 0.3-1.5 0.9-1.5 1.6-1.5 1.7-1 2.3-0.8 2.5-0.6zM-4.9-148l3.9-0.2 4 0 3.5 0.4 3.5 0.7 3 1.1 1.9 1 1.8 1.5 1.1 1.5 0.8 2 0.1 2-0.6 2-1.5 2-2.1 1.5-2.2 1-3.3 0.9-3.8 0.6-4.2 0.2-4 0-3.5-0.4-3.5-0.6-2.3-0.7-2.2-1-2.1-1.5-1.2-1.5-0.8-2-0.1-2 0.7-2.2 1.5-2 2-1.5 2.7-1.3 3.3-0.9 3.5-0.6zM-6.5-118.5l4.5-0.3 4.5 0 4 0.3 4.5 0.7 3 0.8 3 1.3 2 1.3 1.7 1.9 1.2 2.5 0.4 2.5-0.4 2.5-0.7 1.5-0.7 1-1 1-1.3 1-2.7 1.3-3.5 1-4.5 0.7-4.5 0.3-5 0-5-0.3-4-0.5-4-1-2.3-1-2.2-1.5-1.4-1.5-0.6-1-0.5-1.5-0.3-1.5 0-1.5 0.7-2.5 0.9-1.5 0.8-1 2.4-1.9 3-1.4 4-1.1 4-0.6zM-6.7-89l5.7-0.2 5.5 0.1 5 0.4 4.5 0.7 3.5 1 2.5 1.1 2.1 1.4 1.9 2.2 1.3 2.8 0.3 1.5 0.2 2-0.3 2-0.4 1.5-0.6 1.3-0.8 1.2-1 1-1.4 1-3.3 1.4-4.5 1.1-4.6 0.5-5.9 0.3-6 0-5.9-0.3-4.6-0.5-4.3-1-2.6-1-2.1-1.3-1.6-1.7-0.8-1.5-0.5-1.5-0.3-1.5 0-2 0.2-1.6 0.6-1.9 0.7-1.5 1.2-1.6 2.5-2 3.5-1.6 4.5-1.1 5.5-0.7zM-4-59.5l7 0 6 0.2 5 0.5 4.5 0.8 3 1 3 1.6 2 1.9 1.5 2.5 0.7 2 0.4 2 0.2 2.5-0.1 2-0.3 2-0.5 1.5-0.8 1.5-1.1 1.2-1 0.8-2 1-3.6 1-4.9 0.6-7.5 0.5-8.5 0.1-8.8-0.2-6.7-0.5-3.4-0.5-3.6-1-2-1-1.7-1.5-1.2-2-0.6-2-0.2-2-0.1-2.5 0.4-2.5 0.5-2 0.9-2 1-1.5 1.5-1.5 1.4-1 2.1-1 4-1.2 5.3-0.8 8.2-0.5z"/><path stroke="#0000e6" stroke-width="1.3" d="M-2.2-202.5l1.2-0.3 1.5 0 1.5 0.2 1 0.5 0.6 0.6 0.1 0.5-0.1 0.5-0.4 0.5-0.9 0.5-1.3 0.3-1.5 0.1-1.5-0.3-1-0.5-0.6-0.6-0.1-0.5 0.2-0.6 1-0.8zM-4.8-175.5l4.8-0.5 4.5 0.4 3.5 1.1 1.7 1 1.1 1 0.7 1 0.4 1.5-0.3 1.5-0.6 1-1.1 1-1.4 0.9-3.3 1.1-4.7 0.5-4.5-0.3-2-0.4-2-0.7-1.2-0.6-1.3-1-0.8-1-0.6-1.5 0.2-1.5 0.5-1 0.9-1 1.4-1 1.9-0.9 2-0.5zM-4.8-147l3.3-0.3 3.5 0.1 3 0.2 3 0.6 2.9 0.9 2.1 1 1.5 1.1 1.2 1.4 0.8 1.5 0.3 2-0.6 2-1 1.5-1.7 1.5-2 1-3 1-3 0.5-3.5 0.3-3.5 0.1-4-0.4-2.9-0.5-3.1-1-2-1-1.3-1-1.2-1.5-0.6-1.5-0.1-2 0.7-2 1.1-1.5 1.9-1.5 2.1-1 2.9-0.9 3-0.6zM-4.2-118l4.2-0.1 4.5 0.1 3.9 0.5 3.6 0.8 2.5 0.9 2.4 1.3 1.7 1.5 1.5 2 0.7 2.5-0.1 2.5-0.8 2-1.6 2-2.2 1.5-2.6 1.1-3.6 0.9-4.4 0.6-4.5 0.2-5-0.1-4.5-0.5-3.6-0.7-2.9-1-2-1-1.8-1.5-1.4-2-0.7-2.5 0.3-2.5 0.8-2 1.8-2.1 2.5-1.7 2.9-1.2 4.1-1 4-0.5zM-6.7-88.5l5.2-0.3 5.5 0.1 5 0.4 4.5 0.8 3.3 1 2.2 1 2.2 1.5 1.8 2 0.8 1.5 0.6 1.5 0.4 3-0.2 1.5-0.4 1.5-0.6 1.5-0.7 1-1 1-1.3 1-3.1 1.5-4.1 1-4.4 0.6-5.5 0.3-6 0-6-0.3-4.9-0.6-4-1-2.3-1-2.2-1.5-1.3-1.5-0.8-1.5-0.5-1.5-0.2-1.5 0-2 0.9-3 0.8-1.5 1-1.2 2.1-1.8 3.4-1.6 4-1.1 5.5-0.8zM-8.2-59l6.7-0.2 6.5 0 5.5 0.4 5 0.7 3.5 0.8 3 1.1 2 1.3 2 1.9 1 1.5 0.9 2 0.5 2 0.2 2 0 2-0.2 2-0.5 2-0.8 1.5-0.8 1-1.1 1-2.9 1.5-4.1 1-5.2 0.6-7 0.3-7.5 0.1-6.5-0.1-6.5-0.4-4-0.6-3.8-0.9-2.2-1-2-1.7-1-1.5-0.7-1.8-0.4-2-0.1-2.5 0.3-2.5 0.5-2 0.9-2 1-1.5 1-1.1 1.5-1.2 3.5-1.7 5-1.2 6.5-0.8z"/><path stroke="#0008ff" stroke-width="1.2" d="M-3.3-173.5l2.8-0.4 3 0.2 2.5 0.7 1 0.6 1 0.8 0.5 0.6 0.3 1-0.2 1-0.3 0.5-1.3 1.1-2.5 1-3 0.4-3-0.2-2.5-0.7-1.8-1.1-0.7-0.9-0.2-0.6 0.2-1.5 0.9-1 0.7-0.5 2.4-1zM-2.7-146l2.7-0.1 3 0.1 3 0.5 2 0.5 2.5 1 1.5 1 1.1 1 0.9 1.5 0.4 1.5-0.2 1.5-0.8 1.5-1.4 1.4-1.9 1.1-1.6 0.6-2.5 0.7-3 0.4-3 0.1-3-0.1-2.5-0.3-2.5-0.6-2.1-0.8-1.8-1-1.1-1-1-1.5-0.4-1.5 0.2-1.5 0.7-1.5 1.5-1.5 1.5-1 2.5-1 2-0.5 3-0.5zM-6-117l3.5-0.3 4 0 4 0.2 3.5 0.6 3.4 1 2.1 1 2.2 1.5 1.3 1.5 1 2 0.2 2.5-0.5 2-1.2 1.9-2 1.6-1.9 1-3 1-3.6 0.7-3.5 0.3-4.5 0.1-4-0.2-4-0.6-3.3-0.8-2.4-1-1.8-1.2-1.5-1.5-1-2.1-0.2-2.2 0.2-1.4 0.4-1.1 1.4-2 1.8-1.5 2.9-1.4 3-1 3.5-0.6zM-6-88l5-0.2 5 0.1 4.5 0.4 4.1 0.7 3.3 1 2.2 1 2.2 1.5 1.7 2 0.8 1.5 0.6 1.5 0.2 3-0.6 2.6-0.7 1.4-0.8 1-2 1.7-2.8 1.3-3.6 1-5.1 0.7-5.5 0.3-6 0-5.5-0.4-4-0.6-3.5-0.9-2.4-1.1-2.1-1.5-1.3-1.5-0.8-1.5-0.4-1.5 0-3 0.3-1.5 0.6-1.5 1.6-2.3 2.1-1.7 3.4-1.7 4-1 5-0.8zM-9.9-58.5l5.9-0.4 6 0 6 0.3 5 0.5 3.4 0.6 3.3 1 2.8 1.4 2.1 1.6 1.2 1.5 0.9 1.5 0.7 2 0.4 2 0.2 2-0.1 2-0.5 2-0.6 1.5-0.8 1.3-1 1-2.5 1.6-3.6 1.1-4.9 0.7-5.5 0.4-8 0.2-8-0.1-6-0.4-4-0.5-3.3-0.8-2.5-1-2.2-1.6-1.1-1.4-0.8-2-0.5-2-0.1-2 0.3-2.5 0.4-2 0.8-1.8 1-1.6 1-1.2 1.5-1.2 3.3-1.7 4.2-1.2 5.5-0.8z"/><path stroke="#002aff" stroke-width="1.2" d="M-2.1-144.5l4.6 0 4 0.9 1.5 0.6 1.6 1 1 1 0.5 1 0.3 1.5-0.3 1-0.6 1-1 1-1.5 0.9-1.6 0.6-3.9 0.8-4.5 0-2.4-0.3-2-0.5-1.6-0.6-1.5-0.9-1-1-0.6-1-0.3-1 0.3-1.5 0.5-1 1-1 2.8-1.5 1.8-0.5 2.5-0.5zM-6-116l3.5-0.4 3.5 0 3.5 0.2 3 0.5 2.7 0.7 2.4 1 1.7 1 1.6 1.5 1.1 2 0.4 2-0.4 2-0.9 1.5-1.6 1.5-1.6 1-2.6 1-3.3 0.8-3.5 0.4-4 0.1-4-0.2-3-0.4-2.8-0.7-2.6-1-1.6-1-1.6-1.5-0.9-1.5-0.4-2 0.4-2 1.1-2 1.6-1.5 2.3-1.3 2.5-0.9 3-0.7zM-4.4-87.5l4.9-0.1 4.5 0.1 4.5 0.6 3.9 0.9 2.6 1 2.5 1.5 2 1.9 1.2 2.1 0.6 2.5-0.1 2.5-1 2.5-1.8 2-2.4 1.5-3 1.1-4.5 0.9-4.5 0.4-5 0.2-5-0.2-4.5-0.4-4-0.8-3-1-2.3-1.2-1.7-1.5-1.2-2-0.7-2.5 0.1-1.5 0.2-1.5 1.2-2.5 1.7-2 2.2-1.5 3.6-1.5 4.4-1 4.5-0.5zM-3.8-58.5l6.8 0 5.5 0.3 5.4 0.7 3.6 0.9 2.9 1.1 2.6 1.6 1.8 1.9 1.4 2.5 0.9 3.5 0 3.5-0.3 1.5-0.6 1.5-0.9 1.5-1 1-2.3 1.5-4 1.3-4.5 0.7-7.1 0.5-13.4 0-6.5-0.5-4-0.6-3.3-0.9-2.7-1.4-1.8-1.6-1.1-2-0.5-1.5-0.3-2 0-2 0.3-2 0.7-2 0.7-1.5 1.1-1.5 1.4-1.4 3-1.8 3.8-1.3 5.6-1 6.6-0.5z"/><path stroke="#004dff" d="M-2.9-142l2.9-0.3 2.5 0.2 2 0.6 1.6 1 0.4 0.5 0.4 1-0.1 1-0.3 0.5-1.2 1-2.3 0.9-2.5 0.3-2.5-0.1-2.3-0.6-1.7-1-0.5-0.5-0.4-1 0-0.5 0.4-1 1.1-1 2.4-1zM-4.7-115l3.2-0.3 3 0 3 0.3 2.5 0.4 2 0.6 2.2 1 1.5 1 1.5 1.5 0.7 1.5 0.2 2-0.4 1.5-1.1 1.5-1.2 1-1.9 1-2.5 0.9-3 0.6-3 0.3-3.5 0-3.4-0.3-2.6-0.5-2-0.6-2.1-0.9-1.4-1-1.4-1.5-0.6-1.5-0.1-1.5 0.4-1.5 1.2-1.8 1.5-1.2 1.8-1 2.7-0.9 2.5-0.6zM-7.1-86.5l4.1-0.4 4.5 0 4.5 0.3 4 0.6 3.5 1 2.2 1 2.2 1.5 1.4 1.5 1.1 2 0.6 2.5-0.4 2.5-1.1 2.2-1.9 1.8-2.1 1.2-3 1-4 0.8-4.5 0.4-4.5 0.1-4.5-0.1-4-0.5-4-0.8-2.5-0.9-2.1-1.2-1.6-1.5-1.3-2-0.5-2.5 0.4-2.5 1.3-2.5 2-2 2.6-1.5 3.2-1.1 4-0.8zM-5.4-58l5.9-0.1 5.5 0.1 5 0.5 4.5 0.9 3.2 1.1 2.8 1.5 1.7 1.5 1.5 2 0.8 1.5 0.6 2 0.2 3.5-0.3 2-0.5 1.5-1.5 2.2-2.4 1.8-3.1 1.2-3.8 0.8-6.2 0.6-6.5 0.2-6.5 0-5.7-0.3-5.3-0.6-3.7-0.9-2.4-1-2.1-1.5-1.6-2-0.6-1.5-0.4-2 0.1-3.5 0.5-2 0.7-1.6 1-1.5 1.3-1.4 1.2-1 1.7-1 3.8-1.4 5-1.1 5.5-0.5z"/><path stroke="#006eff" d="M-4.6-113.5l4.6-0.4 4.6 0.4 2 0.5 1.9 0.7 1.4 0.8 1.2 1 0.7 1 0.5 1.5-0.1 1.5-0.5 1-0.8 1-1.4 1-2 0.9-2.1 0.6-2.9 0.4-2.5 0.1-5-0.4-3.5-1.1-1.8-1-1.1-1-0.6-1-0.4-1.5 0.3-1.5 0.6-1 1-1 1.4-1 2.1-0.9 2-0.5zM-4.1-86l4.1-0.2 4 0.2 3.5 0.4 3 0.7 2.6 0.9 2.4 1.3 1.9 1.7 1.1 1.5 0.7 2 0.1 2-0.5 2-1.4 2-2 1.5-2.4 1.1-3.2 0.9-4.3 0.6-4 0.3-4-0.1-4.3-0.3-3.2-0.5-3.3-1-2.1-1-2-1.5-1.1-1.5-0.7-2 0-2.5 0.7-2 1.5-2 2-1.5 3.2-1.5 3.8-1 3.5-0.5zM-5.7-57.5l5.7-0.2 5.5 0.2 4.9 0.5 4.1 0.8 3.5 1.2 2.5 1.4 1.9 1.6 1.5 2 1.2 3 0.3 2 0 1.5-0.2 1.5-0.5 1.5-0.7 1.3-0.9 1.2-2.1 1.5-3.5 1.4-4 0.9-5 0.5-6 0.3-7.2-0.1-6.3-0.4-4.1-0.6-3.8-1-2.2-1-1.9-1.5-1.2-1.5-0.7-1.5-0.5-2 0-1.5 0.2-2 0.5-2 0.7-1.4 1-1.5 1-1 1.3-1.1 1.6-1 3.6-1.4 4.5-1 5-0.6z"/><path stroke="#0090ff" d="M-3.8-111.5l3.3-0.4 3.5 0.2 2.5 0.8 1 0.5 1.2 0.9 0.8 1.5 0 1-0.5 1-1 0.9-1 0.6-2 0.7-3 0.5-3.7-0.2-2.8-0.8-2-1.2-1-1.5 0-1 0.4-1 1-1 0.7-0.5 2.4-1zM-4.4-85l3.9-0.2 3.5 0.1 3.5 0.4 3 0.7 2.5 0.9 2 1.1 1.7 1.5 1.1 1.5 0.6 2 0 2-0.6 1.5-1.3 1.7-1.8 1.3-2.3 1-2.9 0.8-3.5 0.6-4 0.2-4-0.1-3.5-0.3-3-0.6-2.5-0.8-2-1-1.7-1.3-1.1-1.5-0.7-2 0.2-2 0.8-2 1.3-1.5 2-1.5 2.2-1 3-0.9 3.5-0.6zM-5.1-57l5.1-0.2 5.1 0.2 4.6 0.5 4.3 0.9 3.1 1.1 2.4 1.3 2 1.7 1.5 2 0.7 1.5 0.5 1.5 0.2 3-0.3 1.5-0.5 1.5-0.6 1-1 1.2-2.5 1.8-2.6 1-4.6 1-4.8 0.5-6 0.2-6.5-0.1-5-0.3-4.5-0.7-3.5-1-2.4-1.1-1.8-1.5-1.1-1.5-0.7-1.5-0.3-1.5-0.1-1.5 0.2-2 0.5-1.5 0.7-1.5 2-2.5 2.8-2 3.2-1.3 4.5-1.1 5-0.6z"/><path stroke="#00b2ff" d="M-2.7-84l5.7 0 3 0.4 2.5 0.7 2.3 0.9 1.7 1 1.6 1.5 0.8 1.5 0.4 1.5-0.2 1.5-0.7 1.5-1.4 1.5-1.5 1-2.5 1-2.5 0.6-3 0.4-3.5 0.2-3.5-0.2-3-0.4-2.5-0.6-2.5-1-1.5-1-1.1-1-0.9-1.5-0.3-1.5 0.4-2 0.8-1.5 1.6-1.5 1.7-1 2.6-1 2.2-0.6 3-0.4zM-3.3-56.5l5.3-0.1 5 0.4 4.3 0.7 3.5 1 3.2 1.5 2 1.5 1.7 2 1 2 0.4 1.5 0.1 1.5-0.3 2.5-0.9 2.1-1.8 1.9-2.6 1.5-3 1-4.6 0.8-5 0.4-5.5 0.2-5.5-0.2-4.5-0.5-4.1-0.7-3-1-2.4-1.3-1.7-1.7-1.1-2-0.4-2.5 0-1.5 0.4-1.5 0.5-1.5 0.8-1.3 2.1-2.2 2.4-1.6 3.7-1.4 4.7-1 5.1-0.5z"/><path stroke="#00d4ff" d="M-3.2-82.5l4.7-0.2 4.5 0.7 2 0.7 1.6 0.8 1.3 1 1.1 1.3 0.5 1.2 0 1.5-0.5 1.2-1 1.2-2.5 1.6-2 0.7-2.5 0.5-5 0.2-2.5-0.2-2.5-0.4-3.5-1.3-1.4-1-0.9-1-0.7-1.5 0-1.3 0.4-1.2 1.1-1.4 1.4-1.1 1.6-0.8 2.1-0.7 2.4-0.5zM-6.9-55.5l4.4-0.4 4.5 0 4.5 0.4 3.5 0.5 3.5 1 2.4 1 2.4 1.5 1.7 1.7 1.3 2.3 0.6 2.5-0.2 2.5-0.5 1.5-0.6 1-1.6 1.6-2.5 1.5-3 1-4.5 0.8-5 0.4-5 0.1-5.5-0.2-4.5-0.6-2.8-0.6-2.9-1-2.3-1.4-1.5-1.5-1.1-2.1-0.3-1.5 0-1.5 0.6-2.5 1.5-2.5 2.2-2 2.7-1.5 3.4-1.1 4.5-0.9z"/><path stroke="#00f6ff" d="M-2.9-80.5l3.4-0.2 3 0.3 2.6 0.9 0.9 0.5 1.1 1 0.6 1 0.1 1-0.6 1.5-1.2 1-0.9 0.5-3.1 0.9-3.5 0.3-3-0.4-2.6-0.8-0.9-0.5-1.2-1-0.6-1.5 0.1-1 0.6-1 1.1-1 0.9-0.5 3.1-1zM-3.9-55l4.4-0.1 4 0.2 4 0.5 3.5 0.9 2.5 1 2.4 1.5 1.6 1.5 1.2 2 0.7 2.5-0.1 2-0.7 2-1.7 2-2.4 1.5-2.7 1-3.3 0.7-4 0.5-4.5 0.2-5-0.1-4-0.4-4-0.7-3-1-2.3-1.2-1.6-1.5-1-1.5-0.5-2 0.1-2.5 1.1-2.5 1.7-2 2.5-1.7 3-1.3 4-1 4-0.5z"/><path stroke="#00ffdd" d="M-4.8-54l3.8-0.2 3.5 0 3.5 0.4 3.5 0.7 3 1 2.1 1.1 1.9 1.5 1.2 1.5 0.9 2 0.2 2-0.5 2-1.3 2-2 1.5-2.2 1-3.3 0.9-3.5 0.6-4 0.2-4 0-3.5-0.2-4-0.6-3.3-0.9-2.2-1-1.5-1-1.3-1.5-0.8-2-0.2-1 0.1-1.5 0.7-2 1.5-2 2-1.5 3-1.5 3-0.9 3.5-0.6z"/><path stroke="#00ffaf" d="M-4-53l3.5-0.2 3.5 0.1 3 0.4 3 0.7 2.5 1 1.8 1 1.7 1.4 1 1.4 0.7 1.7 0.1 2-0.5 1.5-1.1 1.5-2 1.5-2.2 1-2.5 0.7-3 0.5-3.5 0.2-3.5 0.1-4-0.3-3-0.5-2.4-0.7-2.3-1-1.5-1-1.3-1.5-0.8-2 0.1-2 0.9-2 1.2-1.5 2.1-1.5 2-1 3-0.9 3-0.5z"/><path stroke="#00ff7a" d="M-5.2-51.5l2.7-0.4 3-0.1 3 0.3 2.5 0.4 2 0.5 2 0.8 1.6 1 1.6 1.5 0.9 1.5 0.4 1.5-0.2 1.5-0.9 1.5-1 1-1.5 1-2.4 0.9-2.4 0.6-3.1 0.4-3 0.1-3-0.1-3.1-0.4-2.4-0.6-2.4-0.9-1.5-1-1-1-0.9-1.5-0.2-1.5 0.4-1.5 0.9-1.5 1.6-1.5 1.6-1 2-0.8 2.5-0.6z"/><path stroke="#00ff3f" d="M-4-50l4.5-0.3 2.5 0.1 2 0.4 3.4 1.3 1.4 1 0.9 1 0.6 1 0.2 1.5-0.3 1-0.6 1-1.1 1-1.5 0.8-3.5 1-4.5 0.4-4.5-0.4-3.5-1-1.5-0.8-1.1-1-0.6-1-0.3-1.5 0.2-1 0.8-1.3 1-0.9 1.5-1 2-0.8 2-0.5z"/><path stroke="#7fff00" d="M-0.6-48l3.1 0.2 2.4 0.8 1.4 1 0.4 0.5 0.4 1-0.1 0.7-0.4 0.8-1.2 1-1.9 0.8-2.5 0.4-3-0.1-2.4-0.6-1.7-1-0.5-0.5-0.5-1 0.1-0.9 0.3-0.6 1-1 2.1-1 2.6-0.5z"/></g>
<use href="#ct" transform="scale(1,-1)"/>
<g id="cd"><path stroke="#000083" stroke-width="1.3" d="M47.1-52.5l1.9-0.4 2 0 2 0.4 1.5 0.4 2.5 1.6 1 1 1 1.7 0.5 1.3 0.3 2-0.2 2-0.6 1.5-1 1.5-1 0.9-1 0.6-2 0.7-2 0.4-2 0.2-2-0.2-1.5-0.3-1.5-0.6-1.1-0.7-0.9-0.9-0.7-1.1-0.5-1.5-0.3-2 0.1-2 0.6-2 0.8-1.6 1-1.2 1.5-1.1 1.5-0.6z"/><path stroke="#0000a4" stroke-width="1.5" d="M48.8-51.5l2.7 0 1.5 0.4 1.5 0.6 1.4 1 0.9 1 0.7 1 0.6 1.5 0.2 1.5-0.2 1.5-0.5 1.5-0.6 0.9-1 1-1 0.7-1.5 0.6-1.5 0.4-2 0.1-1.5-0.1-2.5-0.7-1-0.6-1-1-0.5-0.8-0.6-1.5-0.2-1.5 0.1-1.5 0.3-1.5 0.8-1.5 0.7-1 1.3-1 1.1-0.5 1.5-0.4z"/><path stroke="#0000c5" stroke-width="1.5" d="M47.9-49.5l2.1-0.3 2.5 0.4 2 1.2 1.3 1.7 0.5 2-0.3 2-1.1 1.5-1.9 1.2-2.5 0.6-2.5-0.3-2-1-1-1.2-0.6-1.8-0.1-1.5 0.2-1 0.5-1.1 0.7-0.9 0.8-0.8 1-0.5z"/><path stroke="#0000e6" stroke-width="1.3" d="M49.4-47l1.1 0 1 0.3 1 0.7 0.6 1 0.1 1-0.4 1-0.8 0.8-1 0.4-1.5 0.1-1-0.3-0.7-0.5-0.6-1-0.1-1 0.3-1 0.6-0.8 1-0.6z"/></g>
<use href="#cd" transform="scale(-1,1)"/><use href="#cd" transform="scale(1,-1)"/><use href="#cd" transform="scale(-1,-1)"/>
</g>
<rect x="78.5" y="18.3" width="857.5" height="857.0" fill="none" stroke="#6c6c6c" stroke-width="1.6"/>
<path d="M152.8 875.3v-8M152.8 18.3v8M78.5 92.3h9M936.0 92.3h-9M236.4 875.3v-8M236.4 18.3v8M78.5 175.9h9M936.0 175.9h-9M320.0 875.3v-8M320.0 18.3v8M78.5 259.5h9M936.0 259.5h-9M403.6 875.3v-8M403.6 18.3v8M78.5 343.1h9M936.0 343.1h-9M487.2 875.3v-8M487.2 18.3v8M78.5 426.7h9M936.0 426.7h-9M570.8 875.3v-8M570.8 18.3v8M78.5 510.3h9M936.0 510.3h-9M654.4 875.3v-8M654.4 18.3v8M78.5 593.9h9M936.0 593.9h-9M738.0 875.3v-8M738.0 18.3v8M78.5 677.5h9M936.0 677.5h-9M821.6 875.3v-8M821.6 18.3v8M78.5 761.1h9M936.0 761.1h-9M905.2 875.3v-8M905.2 18.3v8M78.5 844.7h9M936.0 844.7h-9" stroke="#6c6c6c" stroke-width="1.5" fill="none"/>
<text x="152.8" y="896.0" font-size="14.8" text-anchor="middle" fill="#111" >300</text>
<text x="72.0" y="97.5" font-size="14.8" text-anchor="end" fill="#111" >300</text>
<text x="236.4" y="896.0" font-size="14.8" text-anchor="middle" fill="#111" >350</text>
<text x="72.0" y="181.1" font-size="14.8" text-anchor="end" fill="#111" >350</text>
<text x="320.0" y="896.0" font-size="14.8" text-anchor="middle" fill="#111" >400</text>
<text x="72.0" y="264.7" font-size="14.8" text-anchor="end" fill="#111" >400</text>
<text x="403.6" y="896.0" font-size="14.8" text-anchor="middle" fill="#111" >450</text>
<text x="72.0" y="348.3" font-size="14.8" text-anchor="end" fill="#111" >450</text>
<text x="487.2" y="896.0" font-size="14.8" text-anchor="middle" fill="#111" >500</text>
<text x="72.0" y="431.9" font-size="14.8" text-anchor="end" fill="#111" >500</text>
<text x="570.8" y="896.0" font-size="14.8" text-anchor="middle" fill="#111" >550</text>
<text x="72.0" y="515.5" font-size="14.8" text-anchor="end" fill="#111" >550</text>
<text x="654.4" y="896.0" font-size="14.8" text-anchor="middle" fill="#111" >600</text>
<text x="72.0" y="599.1" font-size="14.8" text-anchor="end" fill="#111" >600</text>
<text x="738.0" y="896.0" font-size="14.8" text-anchor="middle" fill="#111" >650</text>
<text x="72.0" y="682.7" font-size="14.8" text-anchor="end" fill="#111" >650</text>
<text x="821.6" y="896.0" font-size="14.8" text-anchor="middle" fill="#111" >700</text>
<text x="72.0" y="766.3" font-size="14.8" text-anchor="end" fill="#111" >700</text>
<text x="905.2" y="896.0" font-size="14.8" text-anchor="middle" fill="#111" >750</text>
<text x="72.0" y="849.9" font-size="14.8" text-anchor="end" fill="#111" >750</text>
<text transform="translate(0.0,929.2)" y="0" fill="#000"><tspan x="387.1" font-size="29">Range</tspan><tspan x="470.6" font-size="26">（</tspan><tspan x="499.3" font-size="29">Sample</tspan><tspan x="600.9" font-size="26">）</tspan></text>
<text transform="translate(38.9,574.8) rotate(-90)" y="0" fill="#000"><tspan x="0.0" font-size="29">Azimuth</tspan><tspan x="101.3" font-size="26">（</tspan><tspan x="128.8" font-size="29">Sample</tspan><tspan x="231.6" font-size="26">）</tspan></text>
<rect x="947.1" y="18.6" width="23.6" height="856.4" fill="url(#jet)" stroke="#222" stroke-width="1"/>
<text x="975.0" y="23.3" font-size="13" text-anchor="start" fill="#111" >0</text>
<text x="975.0" y="166.0" font-size="13" text-anchor="start" fill="#111" >-5</text>
<text x="975.0" y="308.8" font-size="13" text-anchor="start" fill="#111" >-10</text>
<text x="975.0" y="451.5" font-size="13" text-anchor="start" fill="#111" >-15</text>
<text x="975.0" y="594.2" font-size="13" text-anchor="start" fill="#111" >-20</text>
<text x="975.0" y="737.0" font-size="13" text-anchor="start" fill="#111" >-25</text>
<text x="975.0" y="879.7" font-size="13" text-anchor="start" fill="#111" >-30</text>
<path d="M970.7 161.3h-8M970.7 304.1h-8M970.7 446.8h-8M970.7 589.5h-8M970.7 732.3h-8" stroke="#400" stroke-width="1.2" fill="none" opacity="0.7"/>
</g>
<g filter="url(#b08)">
<g clip-path="url(#clipB)">
<rect x="1289.2" y="18.4" width="857.3" height="856.4" fill="#00008c"/>
<g filter="url(#b3)"><rect x="1440" y="63.9" width="640" height="5" fill="#0000c8" opacity="0.35"/><rect x="1440" y="845.7" width="640" height="5" fill="#0000c8" opacity="0.35"/><rect x="1440" y="53.9" width="640" height="5" fill="#0000c8" opacity="0.30"/><rect x="1440" y="855.7" width="640" height="5" fill="#0000c8" opacity="0.30"/><rect x="1440" y="43.9" width="640" height="5" fill="#0000c8" opacity="0.25"/><rect x="1440" y="865.7" width="640" height="5" fill="#0000c8" opacity="0.25"/><rect x="1440" y="33.9" width="640" height="5" fill="#0000c8" opacity="0.20"/><rect x="1440" y="875.7" width="640" height="5" fill="#0000c8" opacity="0.20"/><rect x="1440" y="23.9" width="640" height="5" fill="#0000c8" opacity="0.15"/><rect x="1440" y="885.7" width="640" height="5" fill="#0000c8" opacity="0.15"/><rect x="1440" y="13.9" width="640" height="5" fill="#0000c8" opacity="0.10"/><rect x="1440" y="895.7" width="640" height="5" fill="#0000c8" opacity="0.10"/><rect x="1392.6" y="100" width="6" height="720" fill="#0000c0" opacity="0.28"/><rect x="1379.6" y="100" width="6" height="720" fill="#0000c0" opacity="0.26"/><rect x="1366.6" y="100" width="6" height="720" fill="#0000c0" opacity="0.23"/><rect x="1353.6" y="100" width="6" height="720" fill="#0000c0" opacity="0.21"/><rect x="1340.6" y="100" width="6" height="720" fill="#0000c0" opacity="0.18"/><rect x="1327.6" y="100" width="6" height="720" fill="#0000c0" opacity="0.16"/><rect x="1314.6" y="100" width="6" height="720" fill="#0000c0" opacity="0.13"/><rect x="1301.6" y="100" width="6" height="720" fill="#0000c0" opacity="0.11"/><rect x="1288.6" y="100" width="6" height="720" fill="#0000c0" opacity="0.08"/><rect x="2100.6" y="80" width="6" height="750" fill="#0000c0" opacity="0.28"/><rect x="2112.6" y="80" width="6" height="750" fill="#0000c0" opacity="0.24"/><rect x="2124.6" y="80" width="6" height="750" fill="#0000c0" opacity="0.20"/><rect x="2136.6" y="80" width="6" height="750" fill="#0000c0" opacity="0.16"/><rect x="2148.6" y="80" width="6" height="750" fill="#0000c0" opacity="0.12"/></g>
<path d="M1421.6 90.0L2079.6 68.6Q2082.1 452.3 2080.6 838.0L1421.6 814.6Q1433.6 452.3 1421.6 90.0Z" fill="none" stroke="#0000ee" stroke-width="34" stroke-linejoin="round" filter="url(#b6)"/>
<path d="M1421.6 90.0L2079.6 68.6Q2082.1 452.3 2080.6 838.0L1421.6 814.6Q1433.6 452.3 1421.6 90.0Z" fill="none" stroke="#0000ff" stroke-width="27" stroke-linejoin="round" filter="url(#b3)"/>
<g filter="url(#b12)">
<path d="M1423.8 92.6L2077.4 71.2Q2079.9 452.3 2078.4 835.4L1423.8 812.0Q1435.8 452.3 1423.8 92.6Z" fill="#0030ff" stroke="#0030ff" stroke-width="12.0" stroke-linejoin="round"/>
<path d="M1424.8 93.8L2076.4 72.4Q2078.9 452.3 2077.4 834.2L1424.8 810.8Q1436.8 452.3 1424.8 93.8Z" fill="#0090ff" stroke="#0090ff" stroke-width="12.0" stroke-linejoin="round"/>
<path d="M1425.8 95.0L2075.4 73.6Q2077.9 452.3 2076.4 833.0L1425.8 809.6Q1437.8 452.3 1425.8 95.0Z" fill="#00f0ff" stroke="#00f0ff" stroke-width="12.0" stroke-linejoin="round"/>
<path d="M1428.1 97.7L2073.1 76.3Q2075.6 452.3 2074.1 830.3L1428.1 806.9Q1440.1 452.3 1428.1 97.7Z" fill="#20ffd8" stroke="#20ffd8" stroke-width="12.0" stroke-linejoin="round"/>
<path d="M1429.1 98.9L2072.1 77.5Q2074.6 452.3 2073.1 829.1L1429.1 805.8Q1441.1 452.3 1429.1 98.9Z" fill="#90ff70" stroke="#90ff70" stroke-width="12.0" stroke-linejoin="round"/>
<path d="M1429.9 99.8L2071.3 78.4Q2073.8 452.3 2072.3 828.2L1429.9 804.8Q1441.9 452.3 1429.9 99.8Z" fill="#e8ff10" stroke="#e8ff10" stroke-width="12.0" stroke-linejoin="round"/>
<path d="M1430.6 100.6L2070.6 79.2Q2073.1 452.3 2071.6 827.4L1430.6 804.0Q1442.6 452.3 1430.6 100.6Z" fill="#ffff00" stroke="#ffff00" stroke-width="12.0" stroke-linejoin="round"/>
<path d="M1432.2 102.5L2069.0 81.1Q2071.5 452.3 2070.0 825.5L1432.2 802.1Q1444.2 452.3 1432.2 102.5Z" fill="#ffb000" stroke="#ffb000" stroke-width="12.0" stroke-linejoin="round"/>
<path d="M1433.2 103.7L2068.0 82.3Q2070.5 452.3 2069.0 824.3L1433.2 800.9Q1445.2 452.3 1433.2 103.7Z" fill="#ff5000" stroke="#ff5000" stroke-width="12.0" stroke-linejoin="round"/>
<path d="M1434.4 105.1L2066.8 83.7Q2069.3 452.3 2067.8 822.9L1434.4 799.5Q1446.4 452.3 1434.4 105.1Z" fill="#ff0000" stroke="#ff0000" stroke-width="12.0" stroke-linejoin="round"/>
</g>
<g mask="url(#mv)" opacity="0.65"><path d="M1434.6 105.3L2066.6 83.9Q2069.1 452.3 2067.6 822.7L1434.6 799.3Q1446.6 452.3 1434.6 105.3Z" fill="url(#vs)"/></g>
<g mask="url(#mh)" opacity="0.6"><path d="M1434.6 105.3L2066.6 83.9Q2069.1 452.3 2067.6 822.7L1434.6 799.3Q1446.6 452.3 1434.6 105.3Z" fill="url(#hs)"/></g>
<path d="M1434.6 105.3L2066.6 83.9Q2069.1 452.3 2067.6 822.7L1434.6 799.3Q1446.6 452.3 1434.6 105.3Z" fill="url(#grid)" opacity="0.15"/>
<g filter="url(#b6)"><rect x="1445" y="455" width="615" height="26" fill="#ff3c00" opacity="0.35"/><rect x="1445" y="540" width="615" height="30" fill="#ff3c00" opacity="0.3"/><rect x="1445" y="600" width="615" height="22" fill="#ff3c00" opacity="0.3"/><rect x="1445" y="395" width="615" height="18" fill="#ff3c00" opacity="0.2"/><rect x="1445" y="660" width="615" height="18" fill="#ff3c00" opacity="0.2"/></g>
<path d="M1435.6 106.5L2065.6 85.1Q2068.1 452.3 2066.6 821.5L1435.6 798.1Q1447.6 452.3 1435.6 106.5Z" fill="none" stroke="#c80000" stroke-width="6" stroke-linejoin="round" opacity="0.38" filter="url(#b3)"/>
<circle cx="1436" cy="106.6" r="7.5" fill="url(#dark)"/><circle cx="1436.5" cy="798.5" r="7.5" fill="url(#dark)"/><circle cx="2066.5" cy="85.5" r="7" fill="url(#dark)"/><circle cx="2067" cy="821" r="7" fill="url(#dark)"/><circle cx="1463.3" cy="105.7" r="5" fill="url(#dark)" opacity="0.61"/><circle cx="1463.8" cy="799.5" r="5" fill="url(#dark)" opacity="0.61"/><circle cx="1490.6" cy="104.8" r="5" fill="url(#dark)" opacity="0.47"/><circle cx="1491.1" cy="800.4" r="5" fill="url(#dark)" opacity="0.47"/><circle cx="1517.9" cy="103.9" r="5" fill="url(#dark)" opacity="0.33"/><circle cx="1518.4" cy="801.4" r="5" fill="url(#dark)" opacity="0.33"/><circle cx="1545.2" cy="103.0" r="5" fill="url(#dark)" opacity="0.19"/><circle cx="1545.7" cy="802.3" r="5" fill="url(#dark)" opacity="0.19"/><circle cx="1572.5" cy="102.1" r="5" fill="url(#dark)" opacity="0.05"/><circle cx="1573.0" cy="803.2" r="5" fill="url(#dark)" opacity="0.05"/>
<path d="M1372.5 874.8v-8M1372.5 18.4v8M1289.2 101.6h8M2146.5 101.6h-8M1456.3 874.8v-8M1456.3 18.4v8M1289.2 185.3h8M2146.5 185.3h-8M1540.1 874.8v-8M1540.1 18.4v8M1289.2 268.9h8M2146.5 268.9h-8M1623.9 874.8v-8M1623.9 18.4v8M1289.2 352.6h8M2146.5 352.6h-8M1707.7 874.8v-8M1707.7 18.4v8M1289.2 436.2h8M2146.5 436.2h-8M1791.5 874.8v-8M1791.5 18.4v8M1289.2 519.9h8M2146.5 519.9h-8M1875.3 874.8v-8M1875.3 18.4v8M1289.2 603.5h8M2146.5 603.5h-8M1959.1 874.8v-8M1959.1 18.4v8M1289.2 687.2h8M2146.5 687.2h-8M2042.9 874.8v-8M2042.9 18.4v8M1289.2 770.8h8M2146.5 770.8h-8M2126.7 874.8v-8M2126.7 18.4v8M1289.2 854.5h8M2146.5 854.5h-8" stroke="#000040" stroke-width="1.3" fill="none" opacity="0.4"/>
</g>
<rect x="1289.2" y="18.4" width="857.3" height="856.4" fill="none" stroke="#10103a" stroke-width="1.4"/>
<path d="M1289.2 875.5999999999999H2146.5" stroke="#999" stroke-width="1" fill="none"/>
<text x="1372.5" y="896.0" font-size="14.8" text-anchor="middle" fill="#111" >100</text>
<text x="1282.5" y="106.8" font-size="14.8" text-anchor="end" fill="#111" >100</text>
<text x="1456.3" y="896.0" font-size="14.8" text-anchor="middle" fill="#111" >200</text>
<text x="1282.5" y="190.5" font-size="14.8" text-anchor="end" fill="#111" >200</text>
<text x="1540.1" y="896.0" font-size="14.8" text-anchor="middle" fill="#111" >300</text>
<text x="1282.5" y="274.1" font-size="14.8" text-anchor="end" fill="#111" >300</text>
<text x="1623.9" y="896.0" font-size="14.8" text-anchor="middle" fill="#111" >400</text>
<text x="1282.5" y="357.8" font-size="14.8" text-anchor="end" fill="#111" >400</text>
<text x="1707.7" y="896.0" font-size="14.8" text-anchor="middle" fill="#111" >500</text>
<text x="1282.5" y="441.4" font-size="14.8" text-anchor="end" fill="#111" >500</text>
<text x="1791.5" y="896.0" font-size="14.8" text-anchor="middle" fill="#111" >600</text>
<text x="1282.5" y="525.1" font-size="14.8" text-anchor="end" fill="#111" >600</text>
<text x="1875.3" y="896.0" font-size="14.8" text-anchor="middle" fill="#111" >700</text>
<text x="1282.5" y="608.7" font-size="14.8" text-anchor="end" fill="#111" >700</text>
<text x="1959.1" y="896.0" font-size="14.8" text-anchor="middle" fill="#111" >800</text>
<text x="1282.5" y="692.4" font-size="14.8" text-anchor="end" fill="#111" >800</text>
<text x="2042.9" y="896.0" font-size="14.8" text-anchor="middle" fill="#111" >900</text>
<text x="1282.5" y="776.0" font-size="14.8" text-anchor="end" fill="#111" >900</text>
<text x="2126.7" y="896.0" font-size="14.8" text-anchor="middle" fill="#111" >1000</text>
<text x="1282.5" y="859.7" font-size="14.8" text-anchor="end" fill="#111" >1000</text>
<text transform="translate(0.0,929.6)" y="0" fill="#000"><tspan x="1525.8" font-size="28.6">Range Frequency</tspan><tspan x="1752.3" font-size="26">（</tspan><tspan x="1782.4" font-size="28.6">Sample</tspan><tspan x="1884.0" font-size="26">）</tspan></text>
<text transform="translate(1241.2,647.6) rotate(-90)" y="0" fill="#000"><tspan x="0.0" font-size="28.5">Azimuth Frequency</tspan><tspan x="245.8" font-size="26">（</tspan><tspan x="274.2" font-size="28.5">Sample</tspan><tspan x="376.6" font-size="26">）</tspan></text>
<rect x="2157.5" y="18.6" width="23.3" height="856.2" fill="url(#jet)" stroke="#333" stroke-width="1"/>
<text x="2187.5" y="746.0" font-size="13" text-anchor="start" fill="#111" >2000</text>
<text x="2187.5" y="611.0" font-size="13" text-anchor="start" fill="#111" >4000</text>
<text x="2187.5" y="476.0" font-size="13" text-anchor="start" fill="#111" >6000</text>
<text x="2187.5" y="341.0" font-size="13" text-anchor="start" fill="#111" >8000</text>
<text x="2187.5" y="206.0" font-size="13" text-anchor="start" fill="#111" >10000</text>
<text x="2187.5" y="71.0" font-size="13" text-anchor="start" fill="#111" >12000</text>
<path d="M2180.8 741.3h-8M2180.8 606.3h-8M2180.8 471.3h-8M2180.8 336.3h-8M2180.8 201.3h-8M2180.8 66.3h-8" stroke="#222" stroke-width="1.2" fill="none" opacity="0.6"/>
</g>
<rect x="110.8" y="1087.5" width="846.1" height="957.5" fill="#3e20ab"/>
<path d="M135.0 1297.1H942.3Q933.3 1566.0 942.3 1834.9H135.0Q126.0 1566.0 135.0 1297.1Z" fill="#f9fb0a"/>
<path d="M110.8 1136.1h15.5M956.9 1136.1h-15.5M110.8 1351.4h15.5M956.9 1351.4h-15.5M110.8 1566.7h15.5M956.9 1566.7h-15.5M110.8 1782.0h15.5M956.9 1782.0h-15.5M110.8 1997.3h15.5M956.9 1997.3h-15.5" stroke="#262626" stroke-width="2.4" fill="none"/>
<path d="M110.8 1087.5V2045.0" stroke="#777" stroke-width="1" fill="none" opacity="0.6"/>
<path d="M110.8 2045.6H956.9" stroke="#777" stroke-width="1.2" fill="none"/>
<text x="102.3" y="1142.8" font-size="18.7" text-anchor="end" fill="#333" >-0.4</text>
<text x="102.3" y="1358.1" font-size="18.7" text-anchor="end" fill="#333" >-0.2</text>
<text x="102.3" y="1573.4" font-size="18.7" text-anchor="end" fill="#333" >0</text>
<text x="102.3" y="1788.7" font-size="18.7" text-anchor="end" fill="#333" >0.2</text>
<text x="102.3" y="2004.0" font-size="18.7" text-anchor="end" fill="#333" >0.4</text>
<text x="214.0" y="2073.3" font-size="18.7" text-anchor="middle" fill="#333" >7.7</text>
<text x="321.0" y="2073.3" font-size="18.7" text-anchor="middle" fill="#333" >7.8</text>
<text x="428.0" y="2073.3" font-size="18.7" text-anchor="middle" fill="#333" >7.9</text>
<text x="535.0" y="2073.3" font-size="18.7" text-anchor="middle" fill="#333" >8</text>
<text x="642.0" y="2073.3" font-size="18.7" text-anchor="middle" fill="#333" >8.1</text>
<text x="749.0" y="2073.3" font-size="18.7" text-anchor="middle" fill="#333" >8.2</text>
<text x="856.0" y="2073.3" font-size="18.7" text-anchor="middle" fill="#333" >8.3</text>
<text transform="translate(0.0,2118.2)" y="0" fill="#1f1f1f"><tspan x="409.9" font-size="38.6">Range</tspan><tspan x="523.1" font-size="34">（</tspan><tspan x="561.2" font-size="38.6">Km</tspan><tspan x="623.8" font-size="34">）</tspan></text>
<text transform="translate(55.0,1699.5) rotate(-90)" y="0" fill="#1f1f1f"><tspan x="0.0" font-size="37.6">Azimuth</tspan><tspan x="135.6" font-size="34">（</tspan><tspan x="174.6" font-size="37.6">Km</tspan><tspan x="236.1" font-size="34">）</tspan></text>
<rect x="1284.2" y="1093.5" width="952.1000000000001" height="950.5" fill="#151515"/>
<path d="M1283.7 1093.5V2044.5H2236.3" stroke="#bdbdbd" stroke-width="1.2" fill="none"/>
<text x="1247.0" y="1160.3" font-size="22.4" text-anchor="middle" fill="#1a1a1a" >200</text>
<text x="1247.0" y="1245.5" font-size="22.4" text-anchor="middle" fill="#1a1a1a" >400</text>
<text x="1247.0" y="1330.6" font-size="22.4" text-anchor="middle" fill="#1a1a1a" >600</text>
<text x="1247.0" y="1415.8" font-size="22.4" text-anchor="middle" fill="#1a1a1a" >800</text>
<text x="1247.0" y="1500.9" font-size="22.4" text-anchor="middle" fill="#1a1a1a" >1,000</text>
<text x="1247.0" y="1586.0" font-size="22.4" text-anchor="middle" fill="#1a1a1a" >1,200</text>
<text x="1247.0" y="1671.2" font-size="22.4" text-anchor="middle" fill="#1a1a1a" >1,400</text>
<text x="1247.0" y="1756.3" font-size="22.4" text-anchor="middle" fill="#1a1a1a" >1,600</text>
<text x="1247.0" y="1841.5" font-size="22.4" text-anchor="middle" fill="#1a1a1a" >1,800</text>
<text x="1247.0" y="1926.7" font-size="22.4" text-anchor="middle" fill="#1a1a1a" >2,000</text>
<text x="1247.0" y="2011.8" font-size="22.4" text-anchor="middle" fill="#1a1a1a" >2,200</text>
<text x="1401.5" y="2080.0" font-size="27" text-anchor="middle" fill="#1a1a1a" letter-spacing="1.5">500</text>
<text x="1536.0" y="2080.0" font-size="27" text-anchor="middle" fill="#1a1a1a" letter-spacing="1.5">1,000</text>
<text x="1641.3" y="2080.0" font-size="27" text-anchor="middle" fill="#1a1a1a" letter-spacing="1.5">1,500</text>
<text x="1775.3" y="2080.0" font-size="27" text-anchor="middle" fill="#1a1a1a" letter-spacing="1.5">2,000</text>
<text x="1898.8" y="2080.0" font-size="27" text-anchor="middle" fill="#1a1a1a" letter-spacing="1.5">2,500</text>
<text x="2023.0" y="2080.0" font-size="27" text-anchor="middle" fill="#1a1a1a" letter-spacing="1.5">3,000</text>
<text x="2146.8" y="2080.0" font-size="27" text-anchor="middle" fill="#1a1a1a" letter-spacing="1.5">3,500</text>
<text x="1760.8" y="2111.2" font-size="27.2" text-anchor="middle" fill="#595959" >Range (Sample)</text>
<text transform="translate(1212.8,1568.0) rotate(-90)" font-size="27.3" text-anchor="middle" fill="#595959">Azimuth (Sample)</text>
<text class="sf" transform="translate(482.4,1050.4) scale(0.88,1)" font-size="88" fill="#000">(</text><text class="sf" transform="translate(509.1,1050.4) scale(0.92,1)" font-size="92" font-weight="bold" fill="#000">a</text><text class="sf" transform="translate(550.7,1050.4) scale(0.88,1)" font-size="88" fill="#000">)</text>
<text class="sf" transform="translate(1706.3,1050.4) scale(0.88,1)" font-size="88" fill="#000">(</text><text class="sf" transform="translate(1733.9,1050.4) scale(0.98,1)" font-size="92" font-weight="bold" fill="#000">b</text><text class="sf" transform="translate(1784.2,1050.4) scale(0.88,1)" font-size="88" fill="#000">)</text>
<text class="sf" transform="translate(484.3,2251.0) scale(0.88,1)" font-size="88" fill="#000">(</text><text class="sf" transform="translate(512.1,2251.0) scale(0.9,1)" font-size="92" font-weight="bold" fill="#000">c</text><text class="sf" transform="translate(548.3,2251.0) scale(0.88,1)" font-size="88" fill="#000">)</text>
<text class="sf" transform="translate(1706.3,2251.2) scale(0.88,1)" font-size="88" fill="#000">(</text><text class="sf" transform="translate(1732.5,2251.2) scale(1.0,1)" font-size="92" font-weight="bold" fill="#000">d</text><text class="sf" transform="translate(1784.2,2251.2) scale(0.88,1)" font-size="88" fill="#000">)</text>
</svg></body></html>
